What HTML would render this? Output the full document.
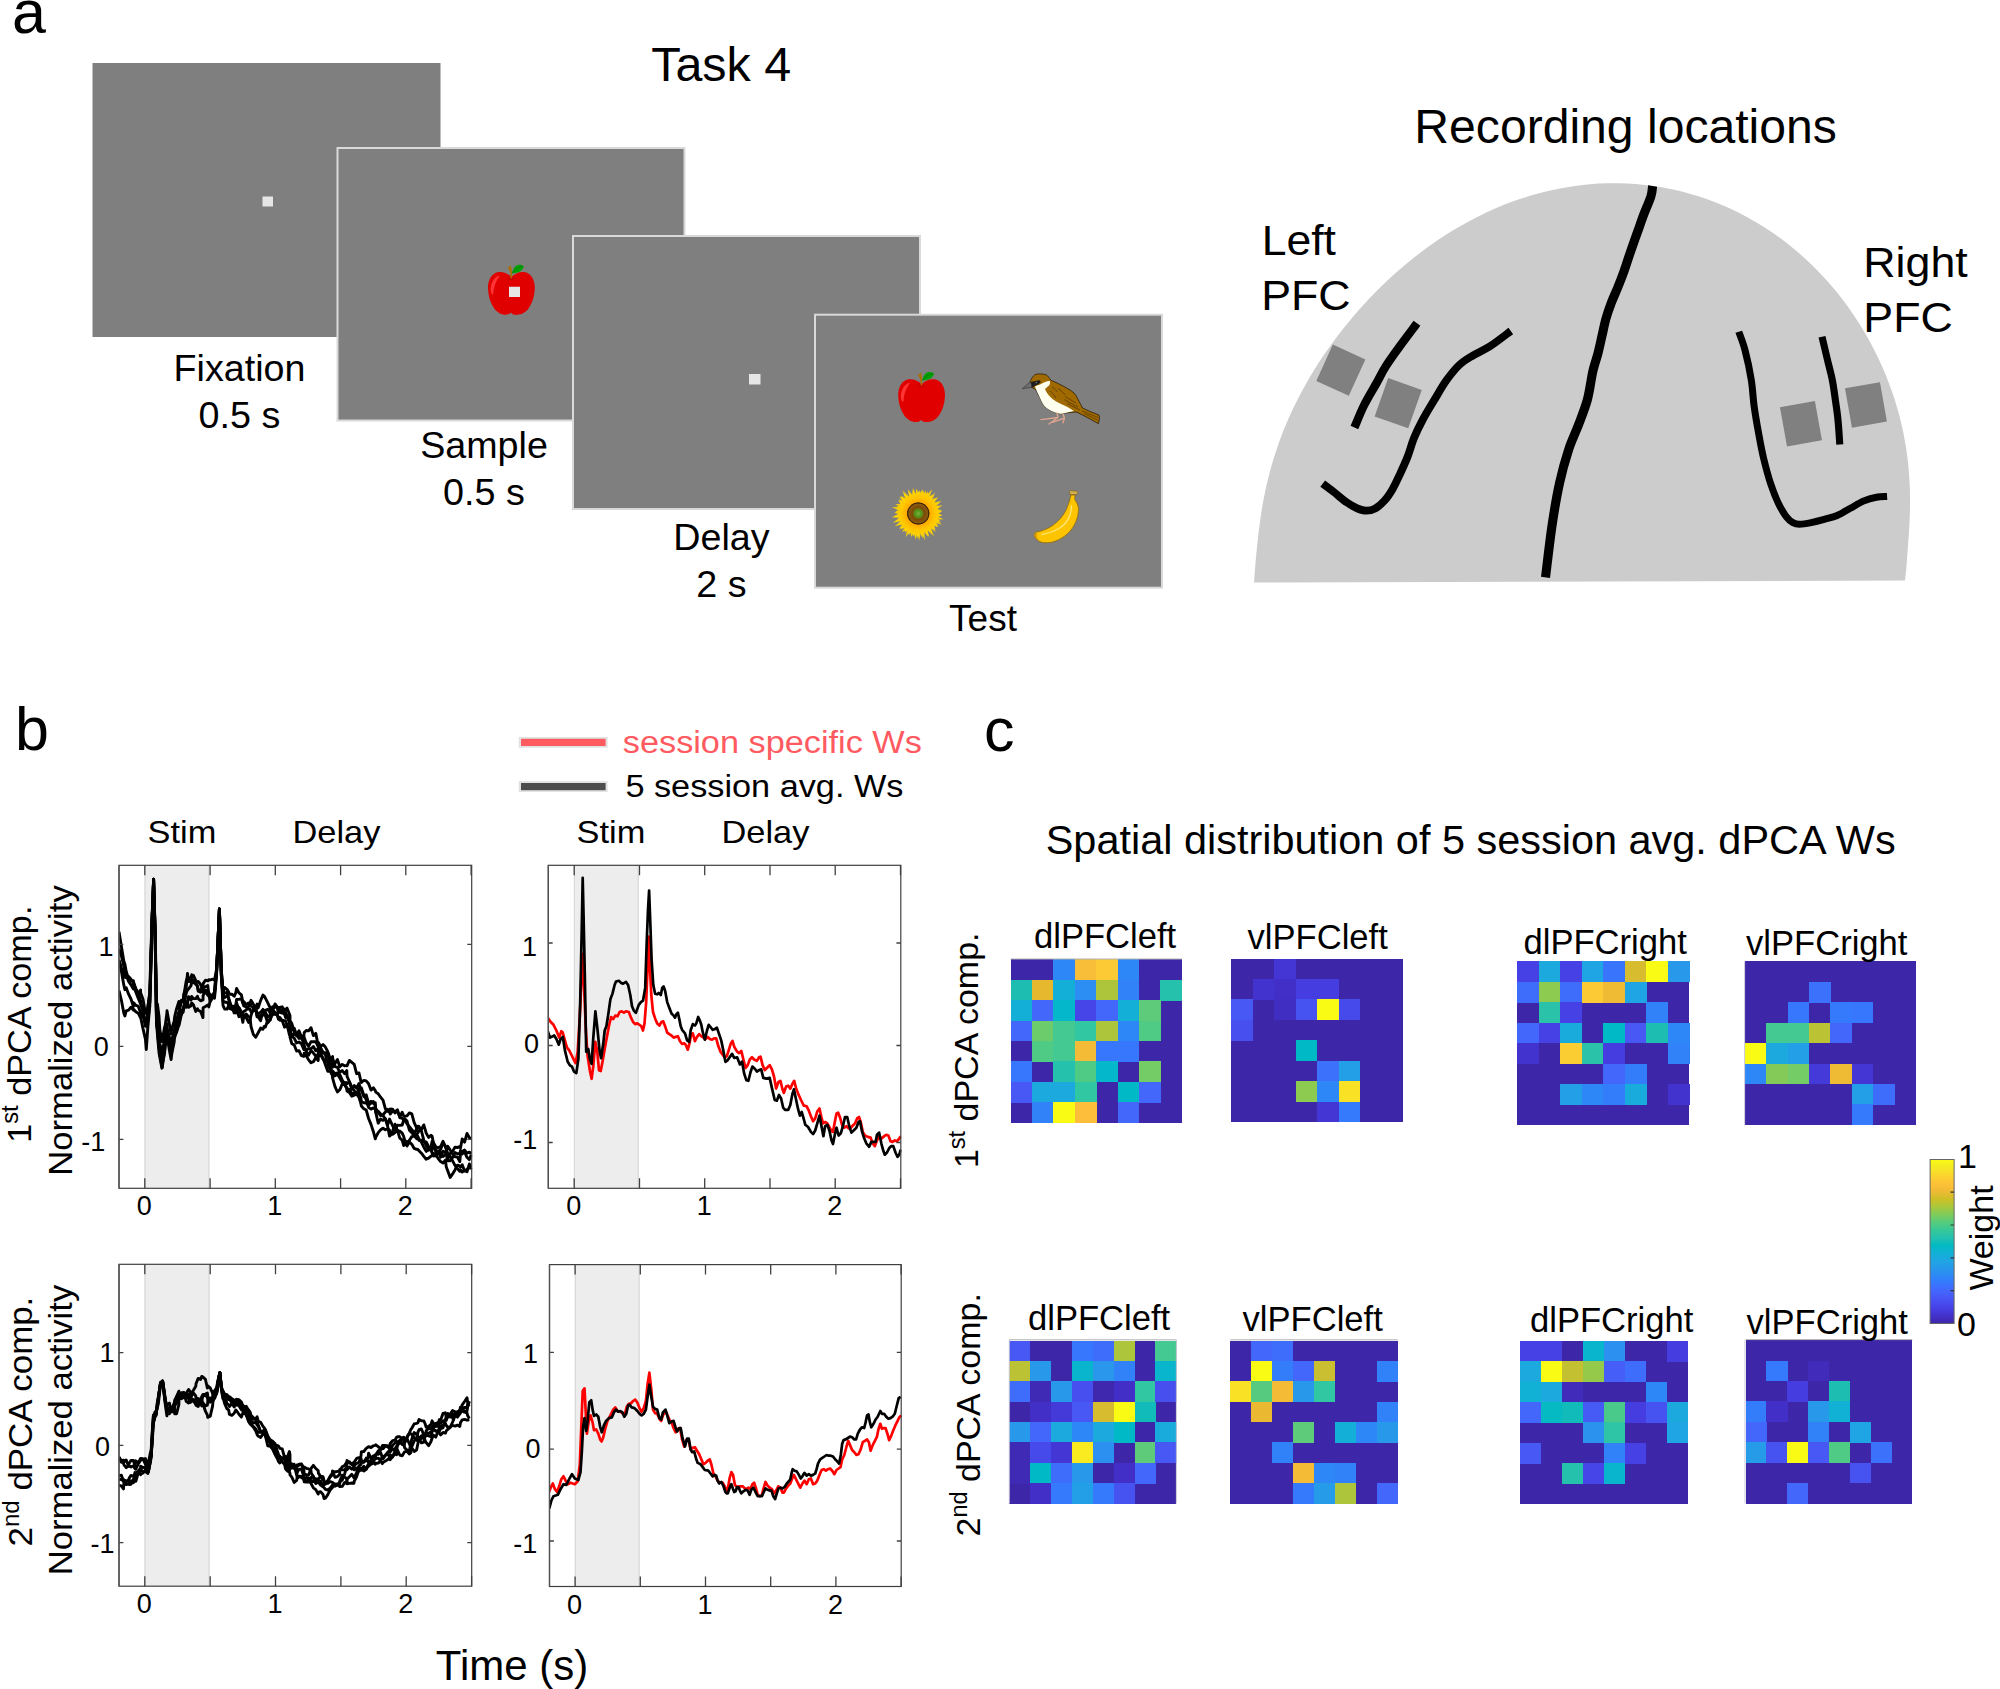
<!DOCTYPE html>
<html><head><meta charset="utf-8"><title>Figure</title>
<style>html,body{margin:0;padding:0;background:#fff}svg{display:block}</style></head>
<body>
<svg width="2000" height="1689" viewBox="0 0 2000 1689" style="font-family:'Liberation Sans',sans-serif">
<text x="12.0" y="33.0" font-size="61.0" text-anchor="start" fill="#000" >a</text>
<text transform="translate(721.2,81.2) scale(1.0200,1)" font-size="47.5" text-anchor="middle" fill="#000" >Task 4</text>
<rect x="92.5" y="63" width="348" height="274" fill="#7F7F7F"/>
<rect x="262.5" y="196.5" width="10.5" height="10" fill="#E6E6E6"/>
<rect x="337.5" y="148" width="347" height="272.5" fill="#7F7F7F" stroke="#D9D9D9" stroke-width="2"/>
<rect x="573" y="236" width="347" height="273" fill="#7F7F7F" stroke="#D9D9D9" stroke-width="2"/>
<rect x="749" y="374" width="11.5" height="10.5" fill="#E6E6E6"/>
<rect x="815" y="314.7" width="347" height="273" fill="#7F7F7F" stroke="#D9D9D9" stroke-width="2"/>
<defs>
<radialGradient id="sfg" gradientUnits="userSpaceOnUse" cx="0" cy="0" r="26"><stop offset="0.4" stop-color="#FFA500"/><stop offset="0.62" stop-color="#FFC400"/><stop offset="1" stop-color="#FFE000"/></radialGradient>
<radialGradient id="sfc" gradientUnits="userSpaceOnUse" cx="0" cy="0" r="11"><stop offset="0" stop-color="#8DB040"/><stop offset="0.25" stop-color="#4E9A20"/><stop offset="0.42" stop-color="#6A7A10"/><stop offset="0.54" stop-color="#7A4A05"/><stop offset="0.88" stop-color="#8A5A14"/><stop offset="1" stop-color="#4A2E05"/></radialGradient>
</defs>
<g transform="translate(511.4,293.2)"><path d="M0,-16 C-3,-20 -9,-22 -14,-21 C-20,-19.5 -23.5,-13 -23.4,-5 C-23.2,3 -21,10 -17,15.5 C-13.5,20 -9,21.7 -5.5,21.6 C-3,21.5 -1.5,20.5 -0.5,19.2 C0.5,20.5 2,21.5 4.5,21.6 C9,21.7 13.5,20 17,15.5 C21,10 23.2,3 23.4,-5 C23.5,-13 20,-19.5 14,-21 C9,-22 3,-20 0,-16 Z" fill="#E00000"/>
<path d="M-3.5,-15.5 C-2,-13.5 2,-13.5 3.5,-15.5" fill="none" stroke="#B80000" stroke-width="1"/>
<path d="M-11.6,-17.8 C-16.5,-17 -20.5,-11 -20.8,-4 C-20.6,-1 -19.8,1 -18.3,1.6 C-18,-6 -15.5,-12.5 -11.6,-17.8 Z" fill="#FF3535"/>
<path d="M-0.8,-15 C-0.8,-20 -1.5,-23 -3.9,-25.4 L-0.6,-27.8 C0.5,-24 0.8,-20 0.6,-15 Z" fill="#A87000"/>
<path d="M0.6,-20 C1.5,-24.5 4,-28 6.5,-28.3 C9,-28.6 11,-28 12.6,-26.8 C11,-23.5 9,-21.5 6.5,-21 C4.5,-20.5 2.5,-20 0.6,-20 Z" fill="#00A000"/>
<path d="M1.2,-20.5 C3.5,-24 7,-26.3 11.5,-26.8" fill="none" stroke="#007800" stroke-width="0.7"/></g>
<rect x="509" y="286.75" width="11" height="10.25" fill="#E6E6E6"/>
<g transform="translate(921.6,400.5)"><path d="M0,-16 C-3,-20 -9,-22 -14,-21 C-20,-19.5 -23.5,-13 -23.4,-5 C-23.2,3 -21,10 -17,15.5 C-13.5,20 -9,21.7 -5.5,21.6 C-3,21.5 -1.5,20.5 -0.5,19.2 C0.5,20.5 2,21.5 4.5,21.6 C9,21.7 13.5,20 17,15.5 C21,10 23.2,3 23.4,-5 C23.5,-13 20,-19.5 14,-21 C9,-22 3,-20 0,-16 Z" fill="#E00000"/>
<path d="M-3.5,-15.5 C-2,-13.5 2,-13.5 3.5,-15.5" fill="none" stroke="#B80000" stroke-width="1"/>
<path d="M-11.6,-17.8 C-16.5,-17 -20.5,-11 -20.8,-4 C-20.6,-1 -19.8,1 -18.3,1.6 C-18,-6 -15.5,-12.5 -11.6,-17.8 Z" fill="#FF3535"/>
<path d="M-0.8,-15 C-0.8,-20 -1.5,-23 -3.9,-25.4 L-0.6,-27.8 C0.5,-24 0.8,-20 0.6,-15 Z" fill="#A87000"/>
<path d="M0.6,-20 C1.5,-24.5 4,-28 6.5,-28.3 C9,-28.6 11,-28 12.6,-26.8 C11,-23.5 9,-21.5 6.5,-21 C4.5,-20.5 2.5,-20 0.6,-20 Z" fill="#00A000"/>
<path d="M1.2,-20.5 C3.5,-24 7,-26.3 11.5,-26.8" fill="none" stroke="#007800" stroke-width="0.7"/></g>
<g transform="translate(918.25,513.5)">
<polygon points="19.5,-0.8 23.8,1.9 19.3,2.8 25.3,5.8 18.5,6.3 23.6,10.9 17.0,9.6 19.9,13.6 15.0,12.5 17.6,18.3 12.4,15.0 15.8,22.8 9.4,17.1 11.0,23.5 6.1,18.5 6.7,26.6 2.6,19.3 0.9,27.0 -1.0,19.5 -2.5,26.2 -4.5,19.0 -7.1,23.5 -7.9,17.8 -12.6,23.6 -11.1,16.0 -16.3,18.6 -13.8,13.7 -19.3,15.2 -16.1,11.0 -23.4,12.8 -17.9,7.8 -25.5,9.3 -19.0,4.4 -26.6,3.7 -19.5,0.8 -24.0,-0.7 -19.3,-2.8 -26.4,-6.4 -18.5,-6.3 -22.8,-9.5 -17.0,-9.6 -19.6,-14.3 -15.0,-12.5 -17.4,-17.7 -12.4,-15.0 -15.8,-22.9 -9.4,-17.1 -10.2,-24.3 -6.1,-18.5 -5.2,-25.7 -2.6,-19.3 -2.1,-24.9 1.0,-19.5 4.3,-24.2 4.5,-19.0 7.9,-23.1 7.9,-17.8 13.9,-24.2 11.1,-16.0 16.9,-20.4 13.8,-13.7 20.0,-16.5 16.1,-11.0 23.1,-12.6 17.9,-7.8 24.2,-8.1 19.0,-4.4 23.8,-3.1" fill="#FFD400" opacity="0.9"/>
<polygon points="18.5,0.3 24.2,1.7 18.0,4.1 22.5,8.2 16.8,7.8 20.0,12.7 14.8,11.1 17.2,15.5 12.2,13.9 14.3,19.2 9.0,16.2 9.6,23.0 5.4,17.7 4.0,24.5 1.7,18.4 -1.2,24.4 -2.2,18.4 -4.9,23.0 -6.0,17.5 -9.6,21.4 -9.5,15.9 -13.5,19.1 -12.6,13.6 -17.8,15.9 -15.1,10.6 -19.7,11.1 -17.0,7.3 -22.8,7.8 -18.2,3.6 -24.6,3.1 -18.5,-0.3 -22.7,-2.1 -18.0,-4.1 -22.0,-6.8 -16.8,-7.8 -19.7,-12.7 -14.8,-11.1 -18.9,-17.1 -12.2,-13.9 -15.1,-20.3 -9.0,-16.2 -8.3,-21.1 -5.4,-17.7 -5.7,-23.0 -1.7,-18.4 1.2,-23.2 2.2,-18.4 5.1,-23.5 6.0,-17.5 9.7,-22.0 9.5,-15.9 14.6,-19.0 12.6,-13.6 17.2,-15.6 15.1,-10.6 21.6,-11.0 17.0,-7.3 20.9,-5.9 18.2,-3.6 24.0,-1.8" fill="url(#sfg)"/>
<circle r="11.1" fill="url(#sfc)"/><circle r="10.6" fill="none" stroke="#3A2405" stroke-width="1"/>
</g>
<g transform="translate(1010,475)">
<path d="M65,20 C64.6,22 64.6,23.5 65,25 C66.5,27 67.5,29 68,31 C68.6,33 68.6,35.5 68.25,37.5 C68,40 67.5,42.5 66.5,45 C65.5,48 64,50.5 62.5,53 C60.8,55.5 58.5,58 56,60 C53.5,62 51,63.8 48,65 C45.5,66.2 42.5,67.2 40,67.5 C37.5,67.9 35,67.9 32.5,67.5 C30.5,67 28.5,66 27,64.5 C25.5,63.3 24.5,62 24.25,60.5 C24.2,58.8 25.3,57.5 27,57 C29.8,56.6 32.5,55.5 35,54.5 C37.7,53.5 40.3,52.2 42.5,50.5 C45.3,48.5 47.8,46.4 50,44 C52,41.8 53.7,39.5 55,37 C56.3,34.7 57.3,32.4 58,30 C58.9,28 59.6,26 60,24 C60.5,22.6 60.75,21.3 60.75,20 Z" fill="#FFC400" stroke="#8A6400" stroke-width="0.7"/>
<path d="M24.3,60.5 C24.3,58.5 25.5,57.3 27,57 C26.3,59.5 26.6,62 28,64.8 C25.8,63.6 24.6,62.2 24.3,60.5 Z" fill="#D09800"/>
<path d="M61.5,31 C61.4,34 60.9,37 60,40 C59,42.7 57.7,45.2 56,47.5 C54.2,49.8 51.8,51.8 49,53.5 C46.2,55.2 43.2,56.5 40,57.5 C37.3,58.4 34.6,59 32,59.5" fill="none" stroke="#FFE878" stroke-width="1.3" stroke-linecap="round"/>
<path d="M59.5,16.75 C59.8,15.9 60.2,15.5 60.5,15.5 L67,16.25 C67.5,16.6 67.75,17 67.75,17.5 L66.75,19.6 L60,19.6 Z" fill="#D0B050" stroke="#7A5A10" stroke-width="0.6"/>
</g>
<g transform="translate(1010,360)">
<path d="M20,22 C22,17 24,15 26,14.25 C28,13.7 33,13.7 36,14.75 C37.8,15.8 38.7,17.2 39.5,18.5 L41.5,20.5 C45,22 47.5,23.2 50,24.5 C52.5,25.8 55,27 57.5,28.5 C60,30 62.3,31.3 64,33 C65.5,34.7 66.7,36.6 67.5,38.5 C68.8,41 70,43 71,45 L72.5,48 C75,49.2 77.5,50.4 80,51.5 L89,55 L89.5,58 L88.5,63.75 L80,59 L72.5,55 C70.5,54 68.5,53 66.5,52 L55,53 C53.3,53.7 51.7,53.9 50,53.75 C48.3,53.6 46.6,53.1 45,52.5 C42.5,51.7 40,50.6 38,49 C36,47.6 34.3,46 33,44 C31.8,42 30.8,40 30,38 L26,30 C24.5,28.5 22,27.8 21.5,27.25 Z" fill="#A06A00" stroke="#1A1205" stroke-width="0.7" stroke-linejoin="round"/>
<path d="M25,26.5 C27,25.5 28.5,25 30,24.5 C31.7,23.7 33.3,22.8 35,22 C36.7,21.4 38.5,20.9 40,21 C40.2,22.3 40,23.7 39.5,25 L35,29 C35.5,30.5 36.2,31.8 37,33 C38.6,35.2 40.5,37.2 42.5,39 C44.8,40.8 47.4,42.2 50,43.5 C52.5,44.7 55,45.8 57.5,47 L64,51 L55,53 C53.3,53.7 51.7,53.9 50,53.75 C48.3,53.6 46.6,53.1 45,52.5 C42.5,51.7 40,50.6 38,49 C36,47.6 34.3,46 33,44 C31.8,42 30.8,40 30,38 L26.5,30.5 C26,29 25.5,27.8 25,26.5 Z" fill="#FFFFF0"/>
<path d="M20.5,22 C23.5,21.3 27,20.6 29.5,20.25 C30.3,20.6 30.7,21.2 30.75,22 C30,23 29.3,23.7 28.5,24.25 C27.5,24.9 26.3,25.3 25,25.75 C24.5,26.2 23.9,26.7 23.5,27.25 L21.5,27.25 Z" fill="#1E1E1E"/>
<path d="M12.25,28.75 L20,22 C20.8,22.6 21.5,24 21.6,25 C21.7,26 21.7,26.6 21.5,27.25 Z" fill="#6E6E6E" stroke="#222" stroke-width="0.5" stroke-linejoin="round"/>
<circle cx="26.3" cy="22.6" r="0.8" fill="#777"/>
<path d="M42,27 C44,28 46,30 47,32 M40,31 C42,32.5 44.5,35 46,38 M48,28.5 C50.5,30 53.5,32.5 55,35 M55,36.5 L66,43 M54,39.5 L68,47 M57,43.5 L70,50 M72,51 L88,57.5 M74,53.5 L88.5,60.5" fill="none" stroke="#5A3A00" stroke-width="0.8"/>
<path d="M47,53 L48,57.5 L31,59.6 M48,57.5 L39,64 M53,54 L54.5,58 L42.5,62.3 M54.5,58 L53,62.8" fill="none" stroke="#DDA48E" stroke-width="1.4" stroke-linecap="round" stroke-linejoin="round"/>
</g>
<text transform="translate(239.5,381.0) scale(1.0180,1)" font-size="37.0" text-anchor="middle" fill="#000" >Fixation</text>
<text transform="translate(239.5,427.5) scale(1.0200,1)" font-size="37.0" text-anchor="middle" fill="#000" >0.5 s</text>
<text transform="translate(484.0,457.5) scale(1.0180,1)" font-size="37.0" text-anchor="middle" fill="#000" >Sample</text>
<text transform="translate(484.0,505.0) scale(1.0200,1)" font-size="37.0" text-anchor="middle" fill="#000" >0.5 s</text>
<text transform="translate(721.5,550.0) scale(1.0180,1)" font-size="37.0" text-anchor="middle" fill="#000" >Delay</text>
<text transform="translate(721.5,596.5) scale(1.0200,1)" font-size="37.0" text-anchor="middle" fill="#000" >2 s</text>
<text x="983.0" y="630.5" font-size="37.0" text-anchor="middle" fill="#000" >Test</text>
<text transform="translate(1625.6,142.8) scale(1.0130,1)" font-size="47.5" text-anchor="middle" fill="#000" >Recording locations</text>
<path d="M1254.1,582.6 C1254.3,580.2 1254.7,572.8 1255.1,567.9 C1255.5,563.1 1255.9,558.2 1256.4,553.3 C1256.9,548.5 1257.3,543.6 1257.9,538.7 C1258.4,533.8 1259.0,529.0 1259.7,524.1 C1260.3,519.2 1261.0,514.3 1261.8,509.4 C1262.6,504.6 1263.5,499.7 1264.5,494.8 C1265.5,489.9 1266.5,485.1 1267.7,480.2 C1268.9,475.4 1270.1,470.5 1271.5,465.7 C1272.9,460.9 1274.4,456.1 1276.0,451.3 C1277.5,446.5 1279.2,441.7 1281.0,437.0 C1282.8,432.2 1284.7,427.5 1286.7,422.8 C1288.7,418.1 1290.8,413.5 1293.0,408.8 C1295.2,404.2 1297.5,399.6 1299.9,395.0 C1302.3,390.5 1304.8,385.9 1307.3,381.4 C1309.9,376.9 1312.6,372.4 1315.4,368.0 C1318.1,363.6 1321.0,359.2 1324.0,354.8 C1326.9,350.5 1330.0,346.2 1333.1,341.9 C1336.2,337.6 1339.5,333.4 1342.8,329.2 C1346.1,325.0 1349.5,320.8 1353.0,316.7 C1356.5,312.6 1360.1,308.5 1363.8,304.5 C1367.4,300.4 1371.2,296.5 1375.1,292.5 C1378.9,288.6 1382.9,284.8 1386.9,280.9 C1391.0,277.1 1395.1,273.4 1399.4,269.7 C1403.6,266.0 1407.9,262.4 1412.3,258.9 C1416.8,255.3 1421.3,251.9 1425.9,248.5 C1430.5,245.1 1435.2,241.8 1440.1,238.6 C1444.9,235.4 1449.8,232.3 1454.8,229.3 C1459.8,226.3 1464.9,223.4 1470.0,220.7 C1475.2,217.9 1480.5,215.3 1485.8,212.7 C1491.2,210.2 1496.6,207.8 1502.2,205.6 C1507.7,203.4 1513.3,201.3 1519.0,199.3 C1524.6,197.4 1530.4,195.6 1536.2,194.0 C1542.0,192.4 1547.8,191.0 1553.8,189.7 C1559.7,188.4 1565.6,187.3 1571.6,186.4 C1577.6,185.5 1583.7,184.8 1589.8,184.3 C1595.8,183.8 1601.9,183.4 1608.0,183.3 C1614.1,183.1 1620.3,183.2 1626.4,183.5 C1632.5,183.7 1638.6,184.2 1644.7,184.9 C1650.8,185.5 1656.8,186.4 1662.9,187.5 C1668.9,188.6 1674.9,189.8 1680.8,191.3 C1686.8,192.8 1692.7,194.5 1698.5,196.3 C1704.4,198.2 1710.2,200.3 1715.9,202.5 C1721.5,204.7 1727.2,207.2 1732.7,209.8 C1738.2,212.4 1743.7,215.2 1749.0,218.2 C1754.4,221.1 1759.6,224.2 1764.7,227.5 C1769.9,230.8 1774.9,234.3 1779.8,237.8 C1784.7,241.4 1789.5,245.2 1794.1,249.0 C1798.8,252.9 1803.3,256.9 1807.7,261.0 C1812.1,265.1 1816.4,269.4 1820.5,273.7 C1824.6,278.0 1828.6,282.5 1832.5,287.1 C1836.3,291.6 1840.0,296.2 1843.6,301.0 C1847.2,305.7 1850.6,310.5 1853.9,315.4 C1857.2,320.3 1860.3,325.2 1863.3,330.2 C1866.3,335.2 1869.2,340.3 1871.9,345.4 C1874.6,350.5 1877.2,355.7 1879.6,360.9 C1882.0,366.1 1884.3,371.4 1886.4,376.7 C1888.5,382.0 1890.5,387.3 1892.3,392.6 C1894.2,398.0 1895.9,403.3 1897.4,408.7 C1899.0,414.1 1900.4,419.5 1901.6,424.9 C1902.9,430.3 1904.0,435.7 1904.9,441.1 C1905.9,446.5 1906.7,451.9 1907.4,457.3 C1908.1,462.6 1908.6,468.0 1909.0,473.4 C1909.4,478.7 1909.7,484.1 1909.9,489.4 C1910.0,494.7 1910.1,500.0 1910.0,505.2 C1910.0,510.4 1909.8,515.6 1909.6,520.8 C1909.4,525.9 1909.0,531.1 1908.7,536.1 C1908.3,541.2 1907.9,546.2 1907.6,551.2 C1907.2,556.2 1906.9,561.1 1906.5,566.0 C1906.1,570.9 1905.2,578.2 1905.0,580.6 Z" fill="#CCCCCC"/>
<rect x="1323.0" y="350.2" width="35.7" height="39.9" fill="#808080" transform="rotate(24.5 1340.8 370.1)"/>
<rect x="1380.4" y="382.9" width="35.6" height="40.6" fill="#808080" transform="rotate(19.5 1398.2 403.2)"/>
<rect x="1783.2" y="403.7" width="35.5" height="40.0" fill="#808080" transform="rotate(-10.2 1801.0 423.7)"/>
<rect x="1848.2" y="384.9" width="35.5" height="40.0" fill="#808080" transform="rotate(-10.0 1866.0 404.9)"/>
<path d="M1652.6,186.0 C1652.3,187.8 1652.4,191.7 1650.9,196.5 C1649.4,201.3 1646.0,208.6 1643.7,214.7 C1641.4,220.8 1639.4,226.8 1637.2,232.9 C1635.0,239.0 1632.9,244.9 1630.7,251.2 C1628.5,257.5 1626.4,264.6 1624.2,270.7 C1622.0,276.8 1619.9,282.2 1617.7,287.6 C1615.5,293.0 1613.1,298.1 1611.1,303.3 C1609.1,308.5 1607.4,313.5 1605.9,318.9 C1604.4,324.3 1603.3,330.1 1602.0,335.8 C1600.7,341.5 1599.6,346.9 1598.1,352.8 C1596.6,358.7 1594.7,363.3 1592.9,371.0 C1591.1,378.7 1589.9,390.3 1587.5,399.2 C1585.1,408.1 1581.8,416.1 1578.6,424.6 C1575.4,433.1 1571.7,440.3 1568.5,450.1 C1565.3,459.9 1562.3,470.5 1559.5,483.2 C1556.7,495.9 1554.2,510.8 1551.9,526.5 C1549.6,542.2 1546.6,568.9 1545.5,577.4" fill="none" stroke="#000" stroke-width="9.1" stroke-linecap="butt" stroke-linejoin="round"/>
<path d="M1417.0,323.3 C1414.2,327.1 1405.2,338.9 1400.0,346.0 C1394.8,353.1 1389.9,359.9 1386.0,366.0 C1382.1,372.1 1380.5,375.9 1376.8,382.6 C1373.1,389.3 1367.4,398.5 1363.7,406.0 C1360.0,413.5 1356.0,423.9 1354.4,427.5" fill="none" stroke="#000" stroke-width="8.4" stroke-linecap="butt" stroke-linejoin="round"/>
<path d="M1510.8,331.0 C1507.3,333.6 1496.4,342.2 1490.0,346.3 C1483.6,350.4 1477.5,352.7 1472.4,355.8 C1467.3,358.9 1463.7,360.9 1459.3,365.0 C1454.9,369.1 1450.5,374.7 1446.3,380.6 C1442.1,386.5 1438.0,393.9 1434.0,400.5 C1430.0,407.1 1425.7,414.1 1422.4,420.4 C1419.1,426.6 1416.5,431.9 1414.0,438.0 C1411.5,444.1 1410.0,450.6 1407.5,457.0 C1405.0,463.4 1401.4,471.0 1398.9,476.4 C1396.4,481.8 1394.8,485.4 1392.4,489.4 C1390.0,493.4 1387.4,497.4 1384.6,500.5 C1381.8,503.6 1378.5,506.6 1375.5,508.3 C1372.5,510.0 1369.3,510.7 1366.3,510.7 C1363.2,510.7 1360.5,509.7 1357.2,508.3 C1354.0,506.9 1350.7,505.1 1346.8,502.4 C1342.9,499.7 1337.8,495.1 1333.8,492.0 C1329.8,488.9 1324.5,485.0 1322.7,483.6" fill="none" stroke="#000" stroke-width="7.8" stroke-linecap="butt" stroke-linejoin="round"/>
<path d="M1738.8,331.7 C1739.8,334.8 1742.9,341.9 1745.0,350.0 C1747.1,358.1 1749.8,370.7 1751.3,380.0 C1752.8,389.3 1752.9,397.3 1754.1,406.0 C1755.3,414.7 1756.8,423.4 1758.4,432.1 C1760.0,440.8 1761.5,449.5 1763.6,458.2 C1765.7,466.9 1768.3,476.6 1770.8,484.2 C1773.3,491.8 1776.0,498.3 1778.6,503.7 C1781.2,509.1 1784.0,513.6 1786.4,516.8 C1788.8,519.9 1790.7,521.4 1792.9,522.6 C1795.1,523.8 1796.5,524.2 1799.5,524.2 C1802.5,524.2 1807.1,523.4 1811.2,522.6 C1815.3,521.8 1819.9,520.6 1824.2,519.4 C1828.5,518.2 1832.9,517.4 1837.2,515.5 C1841.5,513.6 1846.0,510.7 1850.3,508.3 C1854.6,505.9 1859.0,503.0 1863.3,501.1 C1867.6,499.2 1872.3,497.9 1876.3,497.2 C1880.3,496.4 1885.3,496.7 1887.1,496.6" fill="none" stroke="#000" stroke-width="7.0" stroke-linecap="butt" stroke-linejoin="round"/>
<path d="M1822.0,336.8 C1822.9,340.7 1825.8,352.8 1827.5,360.0 C1829.2,367.2 1831.0,373.4 1832.3,380.0 C1833.6,386.6 1834.4,393.0 1835.3,399.5 C1836.2,406.0 1837.2,411.6 1837.9,419.1 C1838.7,426.6 1839.5,440.3 1839.8,444.5" fill="none" stroke="#000" stroke-width="7.1" stroke-linecap="butt" stroke-linejoin="round"/>
<text transform="translate(1261.7,255.4) scale(1.0600,1)" font-size="42.0" text-anchor="start" fill="#000" >Left</text>
<text transform="translate(1261.2,310.1) scale(1.0650,1)" font-size="42.0" text-anchor="start" fill="#000" >PFC</text>
<text transform="translate(1863.3,276.9) scale(1.0650,1)" font-size="42.0" text-anchor="start" fill="#000" >Right</text>
<text transform="translate(1863.3,331.7) scale(1.0650,1)" font-size="42.0" text-anchor="start" fill="#000" >PFC</text>
<text x="15.0" y="750.0" font-size="61.0" text-anchor="start" fill="#000" >b</text>
<rect x="144.6" y="865.3" width="64.7" height="323.0" fill="#EDEDED"/>
<path d="M145.0,865.3 V1188.3 M208.9,865.3 V1188.3" stroke="#D8D8D8" stroke-width="1.2" fill="none"/>
<rect x="574.0" y="865.3" width="64.7" height="323.0" fill="#EDEDED"/>
<path d="M574.4,865.3 V1188.3 M638.2,865.3 V1188.3" stroke="#D8D8D8" stroke-width="1.2" fill="none"/>
<rect x="144.6" y="1264.3" width="64.8" height="321.9" fill="#EDEDED"/>
<path d="M145.0,1264.3 V1586.2 M209.0,1264.3 V1586.2" stroke="#D8D8D8" stroke-width="1.2" fill="none"/>
<rect x="574.9" y="1264.6" width="64.6" height="321.9" fill="#EDEDED"/>
<path d="M575.3,1264.6 V1586.5 M639.1,1264.6 V1586.5" stroke="#D8D8D8" stroke-width="1.2" fill="none"/>
<defs><clipPath id="cp1"><rect x="119.0" y="865.3" width="353.5" height="323.0"/></clipPath><clipPath id="cp2"><rect x="548.3" y="865.3" width="353.3" height="323.0"/></clipPath><clipPath id="cp3"><rect x="119.0" y="1264.3" width="353.5" height="321.9"/></clipPath><clipPath id="cp4"><rect x="549.5" y="1264.6" width="352.5" height="321.9"/></clipPath></defs>
<path d="M119.0,931.8 L121.4,946.6 L123.8,960.9 L124.9,964.1 L126.2,971.4 L128.6,978.9 L131.0,981.2 L133.4,980.7 L133.5,983.0 L135.8,989.5 L138.2,994.0 L140.6,990.0 L140.6,992.5 L143.0,999.3 L145.4,1013.2 L146.3,1012.3 L147.8,1007.4 L149.8,992.4 L150.2,975.9 L152.2,912.3 L152.6,904.5 L153.6,879.2 L155.0,924.3 L155.1,925.6 L156.5,1003.1 L157.4,1004.0 L159.0,1016.2 L159.8,1029.5 L161.9,1041.5 L162.2,1040.5 L164.6,1026.9 L164.7,1029.5 L166.9,1013.0 L167.0,1010.7 L169.4,1024.4 L171.1,1033.9 L171.8,1028.5 L174.2,1021.2 L174.7,1016.7 L176.6,1008.6 L178.9,1001.4 L179.0,1008.5 L181.4,1001.8 L183.2,1000.7 L183.8,996.0 L186.2,981.0 L187.5,977.4 L188.6,979.2 L191.0,982.5 L191.7,974.8 L193.4,975.3 L195.8,980.6 L197.4,982.0 L198.2,981.5 L200.6,984.5 L203.0,991.4 L203.1,987.0 L205.4,986.8 L207.8,985.6 L208.8,994.9 L210.2,1001.4 L212.6,997.9 L214.5,994.5 L215.0,988.4 L216.6,970.1 L217.4,953.4 L219.4,909.0 L219.8,921.9 L221.3,975.1 L222.2,987.1 L223.0,993.1 L224.6,987.5 L227.0,989.3 L228.7,992.1 L229.4,994.2 L231.8,994.1 L234.2,996.3 L235.8,992.6 L236.6,988.5 L239.0,992.9 L241.4,994.9 L242.9,1002.6 L243.8,1001.6 L246.2,1004.7 L248.6,1003.0 L250.0,1002.5 L251.0,1006.1 L253.4,1007.4 L255.8,1007.3 L257.1,1004.1 L258.2,1007.9 L260.6,1000.6 L263.0,995.0 L264.2,996.0 L265.4,998.2 L267.8,1002.9 L270.2,1007.9 L271.3,1013.6 L272.6,1010.8 L275.0,1003.9 L277.4,1007.2 L278.4,1010.8 L279.8,1007.5 L282.2,1006.8 L284.6,1014.2 L285.5,1009.8 L287.0,1008.1 L289.4,1014.0 L290.0,1015.7 L290.0,1020.5 L291.8,1023.4 L294.2,1032.7 L296.6,1035.9 L299.0,1035.1 L301.4,1035.7 L303.8,1038.4 L304.2,1032.5 L306.2,1030.5 L308.6,1030.9 L311.0,1027.7 L313.4,1035.6 L315.8,1033.4 L318.2,1045.8 L318.4,1042.4 L320.6,1046.4 L323.0,1044.6 L325.4,1047.1 L327.8,1051.6 L330.2,1058.6 L332.6,1067.2 L332.6,1065.1 L335.0,1063.4 L337.4,1059.5 L339.8,1066.8 L342.2,1064.4 L344.6,1065.8 L346.8,1065.4 L347.0,1065.8 L349.4,1060.4 L351.8,1062.4 L354.2,1064.4 L356.6,1073.7 L359.0,1073.0 L361.0,1081.9 L361.4,1082.5 L363.8,1080.4 L366.2,1080.9 L368.6,1083.7 L371.0,1090.1 L373.4,1087.8 L375.3,1090.5 L375.8,1092.1 L378.2,1093.7 L380.6,1097.2 L383.0,1100.1 L385.4,1108.9 L387.8,1111.4 L389.5,1111.8 L390.2,1109.0 L392.6,1109.1 L395.0,1112.9 L397.4,1111.0 L399.8,1116.7 L402.2,1112.3 L403.7,1116.0 L404.6,1116.1 L407.0,1115.9 L409.4,1112.9 L411.8,1113.9 L414.2,1122.6 L416.6,1127.8 L417.9,1132.8 L419.0,1130.9 L421.4,1129.5 L423.8,1124.9 L426.2,1133.1 L428.6,1137.4 L431.0,1135.3 L432.1,1136.4 L433.4,1142.8 L435.8,1146.8 L438.2,1147.8 L440.6,1146.5 L443.0,1141.3 L445.4,1146.5 L446.3,1149.0 L447.8,1158.9 L450.2,1153.3 L452.6,1151.4 L455.0,1147.1 L457.4,1147.5 L459.8,1146.7 L460.5,1147.9 L462.2,1138.9 L464.6,1142.2 L467.0,1133.4 L469.4,1137.8 L471.2,1138.3" fill="none" stroke="#000" stroke-width="2.9" stroke-linejoin="round" stroke-linecap="butt" clip-path="url(#cp1)"/>
<path d="M119.0,948.8 L121.4,956.0 L123.8,966.1 L124.9,972.1 L126.2,974.8 L128.6,981.4 L131.0,984.9 L133.4,989.1 L133.5,985.0 L135.8,992.0 L138.2,998.3 L140.6,1004.0 L140.6,1001.1 L143.0,1013.5 L145.4,1023.3 L146.3,1024.5 L147.8,1007.5 L149.8,993.6 L150.2,983.5 L152.2,915.8 L152.6,906.6 L153.6,879.2 L155.0,928.3 L155.1,931.9 L156.5,1015.7 L157.4,1022.4 L159.0,1032.1 L159.8,1043.2 L161.9,1053.1 L162.2,1053.6 L164.6,1038.4 L164.7,1040.2 L166.9,1023.6 L167.0,1030.2 L169.4,1041.9 L171.1,1049.6 L171.8,1040.1 L174.2,1031.9 L174.7,1037.3 L176.6,1031.4 L178.9,1018.8 L179.0,1013.6 L181.4,1000.2 L183.2,1001.5 L183.8,994.3 L186.2,987.5 L187.5,973.4 L188.6,981.6 L191.0,976.8 L191.7,982.1 L193.4,980.2 L195.8,983.3 L197.4,986.0 L198.2,991.1 L200.6,992.2 L203.0,991.2 L203.1,983.6 L205.4,980.2 L207.8,980.9 L208.8,979.6 L210.2,980.0 L212.6,979.1 L214.5,980.4 L215.0,977.4 L216.6,968.9 L217.4,953.5 L219.4,909.0 L219.8,921.7 L221.3,971.0 L222.2,981.6 L223.0,992.0 L224.6,993.2 L227.0,992.3 L228.7,999.1 L229.4,1000.5 L231.8,1007.8 L234.2,1007.7 L235.8,1005.0 L236.6,999.4 L239.0,999.2 L241.4,998.9 L242.9,1003.2 L243.8,1006.0 L246.2,1007.0 L248.6,1009.1 L250.0,1009.0 L251.0,1011.9 L253.4,1010.9 L255.8,1009.9 L257.1,1014.9 L258.2,1016.1 L260.6,1015.5 L263.0,1015.2 L264.2,1012.6 L265.4,1010.3 L267.8,1009.2 L270.2,1013.0 L271.3,1012.9 L272.6,1009.7 L275.0,1012.5 L277.4,1015.7 L278.4,1017.5 L279.8,1020.2 L282.2,1020.4 L284.6,1020.7 L285.5,1020.7 L287.0,1024.5 L289.4,1034.7 L290.0,1034.9 L290.0,1029.5 L291.8,1029.0 L294.2,1028.2 L296.6,1035.0 L299.0,1038.4 L301.4,1037.4 L303.8,1043.7 L304.2,1045.2 L306.2,1051.6 L308.6,1055.2 L311.0,1050.6 L313.4,1053.1 L315.8,1056.1 L318.2,1054.6 L318.4,1050.2 L320.6,1047.6 L323.0,1052.3 L325.4,1054.8 L327.8,1064.0 L330.2,1070.2 L332.6,1075.9 L332.6,1078.2 L335.0,1086.7 L337.4,1092.0 L339.8,1089.8 L342.2,1084.1 L344.6,1084.6 L346.8,1087.9 L347.0,1091.0 L349.4,1092.5 L351.8,1096.2 L354.2,1095.1 L356.6,1094.1 L359.0,1092.2 L361.0,1098.6 L361.4,1101.5 L363.8,1102.7 L366.2,1103.1 L368.6,1105.2 L371.0,1103.1 L373.4,1101.5 L375.3,1105.8 L375.8,1112.4 L378.2,1123.2 L380.6,1118.9 L383.0,1120.4 L385.4,1118.8 L387.8,1124.6 L389.5,1119.1 L390.2,1120.5 L392.6,1125.7 L395.0,1129.8 L397.4,1125.2 L399.8,1125.4 L402.2,1125.0 L403.7,1120.2 L404.6,1118.6 L407.0,1121.1 L409.4,1130.2 L411.8,1132.7 L414.2,1135.8 L416.6,1138.7 L417.9,1137.8 L419.0,1140.4 L421.4,1140.2 L423.8,1141.9 L426.2,1141.9 L428.6,1146.7 L431.0,1148.8 L432.1,1149.9 L433.4,1145.6 L435.8,1150.7 L438.2,1151.0 L440.6,1157.3 L443.0,1151.2 L445.4,1152.4 L446.3,1154.5 L447.8,1160.8 L450.2,1160.7 L452.6,1157.5 L455.0,1152.6 L457.4,1153.7 L459.8,1153.5 L460.5,1150.5 L462.2,1151.6 L464.6,1150.1 L467.0,1153.1 L469.4,1152.2 L471.2,1153.7" fill="none" stroke="#000" stroke-width="2.9" stroke-linejoin="round" stroke-linecap="butt" clip-path="url(#cp1)"/>
<path d="M119.0,960.9 L121.4,971.2 L123.8,984.9 L124.9,989.7 L126.2,987.8 L128.6,994.2 L131.0,999.0 L133.4,1006.5 L133.5,1002.6 L135.8,1005.3 L138.2,1006.1 L140.6,1012.8 L140.6,1015.0 L143.0,1015.0 L145.4,1024.4 L146.3,1022.2 L147.8,1016.1 L149.8,1001.0 L150.2,987.0 L152.2,916.0 L152.6,906.3 L153.6,879.2 L155.0,929.2 L155.1,931.4 L156.5,1017.8 L157.4,1028.7 L159.0,1045.0 L159.8,1053.4 L161.9,1066.4 L162.2,1067.7 L164.6,1049.7 L164.7,1045.2 L166.9,1027.2 L167.0,1028.2 L169.4,1037.2 L171.1,1048.5 L171.8,1045.5 L174.2,1034.6 L174.7,1031.7 L176.6,1027.1 L178.9,1021.3 L179.0,1019.3 L181.4,1014.1 L183.2,1012.1 L183.8,1007.2 L186.2,992.9 L187.5,989.9 L188.6,988.9 L191.0,985.7 L191.7,982.3 L193.4,982.3 L195.8,984.2 L197.4,986.1 L198.2,989.9 L200.6,989.8 L203.0,987.5 L203.1,992.3 L205.4,992.2 L207.8,995.2 L208.8,995.8 L210.2,994.6 L212.6,996.1 L214.5,991.8 L215.0,989.3 L216.6,971.5 L217.4,954.0 L219.4,909.0 L219.8,921.8 L221.3,970.7 L222.2,979.4 L223.0,993.1 L224.6,997.6 L227.0,996.2 L228.7,997.7 L229.4,1002.9 L231.8,1006.5 L234.2,1012.9 L235.8,1008.5 L236.6,1009.9 L239.0,1007.5 L241.4,1012.2 L242.9,1012.5 L243.8,1011.4 L246.2,1010.0 L248.6,1006.3 L250.0,1004.0 L251.0,1000.3 L253.4,1004.2 L255.8,1007.8 L257.1,1015.4 L258.2,1013.6 L260.6,1012.3 L263.0,1009.4 L264.2,1010.9 L265.4,1012.3 L267.8,1017.2 L270.2,1015.1 L271.3,1009.4 L272.6,1006.6 L275.0,1007.3 L277.4,1007.2 L278.4,1011.9 L279.8,1012.4 L282.2,1013.2 L284.6,1009.0 L285.5,1013.1 L287.0,1017.1 L289.4,1021.9 L290.0,1028.0 L290.0,1031.0 L291.8,1036.4 L294.2,1038.2 L296.6,1043.0 L299.0,1042.0 L301.4,1043.7 L303.8,1049.5 L304.2,1049.5 L306.2,1050.2 L308.6,1048.6 L311.0,1048.7 L313.4,1046.5 L315.8,1050.7 L318.2,1048.5 L318.4,1051.9 L320.6,1052.4 L323.0,1059.2 L325.4,1061.2 L327.8,1061.1 L330.2,1061.4 L332.6,1056.6 L332.6,1057.8 L335.0,1066.6 L337.4,1067.3 L339.8,1072.5 L342.2,1070.5 L344.6,1073.7 L346.8,1070.6 L347.0,1076.1 L349.4,1081.7 L351.8,1087.0 L354.2,1090.5 L356.6,1093.7 L359.0,1088.5 L361.0,1090.2 L361.4,1089.9 L363.8,1096.5 L366.2,1094.9 L368.6,1103.5 L371.0,1101.2 L373.4,1103.4 L375.3,1102.8 L375.8,1112.3 L378.2,1111.2 L380.6,1114.0 L383.0,1115.5 L385.4,1119.1 L387.8,1126.9 L389.5,1136.1 L390.2,1135.6 L392.6,1131.1 L395.0,1124.2 L397.4,1130.6 L399.8,1131.1 L402.2,1133.2 L403.7,1136.5 L404.6,1140.1 L407.0,1142.5 L409.4,1140.3 L411.8,1136.6 L414.2,1136.0 L416.6,1134.2 L417.9,1136.6 L419.0,1139.0 L421.4,1142.2 L423.8,1147.1 L426.2,1151.4 L428.6,1149.6 L431.0,1150.1 L432.1,1152.9 L433.4,1156.0 L435.8,1155.9 L438.2,1152.3 L440.6,1152.3 L443.0,1156.6 L445.4,1154.7 L446.3,1150.8 L447.8,1146.3 L450.2,1150.1 L452.6,1153.9 L455.0,1156.8 L457.4,1157.0 L459.8,1161.6 L460.5,1154.3 L462.2,1154.0 L464.6,1152.0 L467.0,1157.3 L469.4,1159.6 L471.2,1154.8" fill="none" stroke="#000" stroke-width="2.9" stroke-linejoin="round" stroke-linecap="butt" clip-path="url(#cp1)"/>
<path d="M119.0,990.5 L121.4,1000.3 L123.8,1012.9 L124.9,1016.0 L126.2,1010.9 L128.6,1010.2 L131.0,1007.2 L133.4,1010.1 L133.5,1009.1 L135.8,1011.8 L138.2,1013.2 L140.6,1017.8 L140.6,1016.9 L143.0,1028.6 L145.4,1039.1 L146.3,1049.5 L147.8,1027.7 L149.8,1006.1 L150.2,992.7 L152.2,918.3 L152.6,907.7 L153.6,879.2 L155.0,930.7 L155.1,933.3 L156.5,1021.8 L157.4,1034.1 L159.0,1052.7 L159.8,1057.2 L161.9,1068.2 L162.2,1064.9 L164.6,1053.3 L164.7,1051.9 L166.9,1032.7 L167.0,1029.8 L169.4,1040.0 L171.1,1048.0 L171.8,1041.0 L174.2,1031.7 L174.7,1027.7 L176.6,1019.6 L178.9,1012.0 L179.0,1022.6 L181.4,1010.5 L183.2,1009.5 L183.8,1006.0 L186.2,1007.3 L187.5,1001.5 L188.6,1007.4 L191.0,1005.7 L191.7,1002.9 L193.4,1004.8 L195.8,1011.4 L197.4,1008.8 L198.2,1010.2 L200.6,1011.5 L203.0,1017.6 L203.1,1007.7 L205.4,1006.5 L207.8,1005.1 L208.8,1006.9 L210.2,1000.9 L212.6,997.0 L214.5,991.9 L215.0,984.5 L216.6,972.4 L217.4,955.3 L219.4,909.0 L219.8,921.9 L221.3,975.0 L222.2,991.0 L223.0,1005.4 L224.6,1009.0 L227.0,1009.1 L228.7,1005.3 L229.4,1004.1 L231.8,1006.7 L234.2,1006.2 L235.8,1007.7 L236.6,1003.1 L239.0,1009.4 L241.4,1015.3 L242.9,1017.0 L243.8,1015.5 L246.2,1014.1 L248.6,1016.7 L250.0,1017.5 L251.0,1026.5 L253.4,1034.6 L255.8,1037.2 L257.1,1034.7 L258.2,1032.7 L260.6,1028.1 L263.0,1029.2 L264.2,1026.4 L265.4,1026.9 L267.8,1020.1 L270.2,1019.8 L271.3,1015.7 L272.6,1011.6 L275.0,1012.5 L277.4,1014.7 L278.4,1019.3 L279.8,1017.4 L282.2,1020.6 L284.6,1027.2 L285.5,1025.8 L287.0,1026.6 L289.4,1027.8 L290.0,1031.8 L290.0,1037.2 L291.8,1043.7 L294.2,1044.9 L296.6,1051.1 L299.0,1050.6 L301.4,1055.7 L303.8,1056.4 L304.2,1053.2 L306.2,1055.7 L308.6,1059.9 L311.0,1062.7 L313.4,1061.7 L315.8,1057.5 L318.2,1060.5 L318.4,1055.1 L320.6,1055.5 L323.0,1058.1 L325.4,1064.7 L327.8,1071.2 L330.2,1071.2 L332.6,1075.2 L332.6,1071.0 L335.0,1073.7 L337.4,1073.0 L339.8,1074.7 L342.2,1079.9 L344.6,1084.0 L346.8,1088.7 L347.0,1088.9 L349.4,1089.5 L351.8,1093.3 L354.2,1093.4 L356.6,1094.0 L359.0,1097.4 L361.0,1104.1 L361.4,1106.1 L363.8,1108.7 L366.2,1110.0 L368.6,1118.5 L371.0,1124.4 L373.4,1131.7 L375.3,1138.8 L375.8,1137.1 L378.2,1132.7 L380.6,1129.8 L383.0,1128.2 L385.4,1129.8 L387.8,1128.7 L389.5,1130.1 L390.2,1134.4 L392.6,1134.2 L395.0,1132.5 L397.4,1130.3 L399.8,1138.1 L402.2,1140.2 L403.7,1145.5 L404.6,1142.8 L407.0,1146.0 L409.4,1142.1 L411.8,1144.3 L414.2,1148.4 L416.6,1149.3 L417.9,1149.5 L419.0,1150.7 L421.4,1153.2 L423.8,1156.4 L426.2,1159.2 L428.6,1158.2 L431.0,1156.2 L432.1,1155.3 L433.4,1153.2 L435.8,1154.7 L438.2,1158.6 L440.6,1161.6 L443.0,1163.0 L445.4,1160.1 L446.3,1166.9 L447.8,1170.9 L450.2,1177.5 L452.6,1173.9 L455.0,1169.9 L457.4,1165.1 L459.8,1165.8 L460.5,1167.3 L462.2,1164.7 L464.6,1171.0 L467.0,1169.5 L469.4,1167.1 L471.2,1165.0" fill="none" stroke="#000" stroke-width="2.9" stroke-linejoin="round" stroke-linecap="butt" clip-path="url(#cp1)"/>
<path d="M119.0,959.9 L121.4,968.0 L123.8,973.7 L124.9,977.3 L126.2,977.7 L128.6,976.5 L131.0,979.2 L133.4,982.8 L133.5,982.1 L135.8,988.7 L138.2,992.5 L140.6,1000.9 L140.6,1003.0 L143.0,1010.6 L145.4,1026.3 L146.3,1026.4 L147.8,1021.2 L149.8,1002.2 L150.2,988.9 L152.2,917.2 L152.6,907.8 L153.6,879.2 L155.0,930.9 L155.1,932.8 L156.5,1023.9 L157.4,1029.5 L159.0,1048.3 L159.8,1048.5 L161.9,1062.4 L162.2,1057.4 L164.6,1046.5 L164.7,1045.0 L166.9,1031.8 L167.0,1035.8 L169.4,1050.5 L171.1,1059.5 L171.8,1053.7 L174.2,1042.0 L174.7,1035.7 L176.6,1032.0 L178.9,1025.0 L179.0,1025.4 L181.4,1014.5 L183.2,1008.7 L183.8,1008.7 L186.2,1002.3 L187.5,1002.7 L188.6,996.6 L191.0,1000.1 L191.7,996.5 L193.4,998.6 L195.8,998.6 L197.4,996.2 L198.2,998.6 L200.6,1000.8 L203.0,999.9 L203.1,995.7 L205.4,990.0 L207.8,993.0 L208.8,992.4 L210.2,997.2 L212.6,995.5 L214.5,998.2 L215.0,993.3 L216.6,974.3 L217.4,953.5 L219.4,909.0 L219.8,921.8 L221.3,974.1 L222.2,986.5 L223.0,1001.2 L224.6,1002.0 L227.0,1002.5 L228.7,1004.3 L229.4,1008.5 L231.8,1009.5 L234.2,1006.5 L235.8,1012.9 L236.6,1009.6 L239.0,1016.7 L241.4,1015.3 L242.9,1022.4 L243.8,1015.2 L246.2,1017.6 L248.6,1022.4 L250.0,1019.8 L251.0,1015.6 L253.4,1008.8 L255.8,1008.8 L257.1,1016.9 L258.2,1017.0 L260.6,1020.7 L263.0,1010.6 L264.2,1011.0 L265.4,1015.8 L267.8,1022.8 L270.2,1019.9 L271.3,1016.5 L272.6,1014.7 L275.0,1014.0 L277.4,1015.3 L278.4,1009.6 L279.8,1009.5 L282.2,1011.8 L284.6,1013.7 L285.5,1017.5 L287.0,1014.8 L289.4,1021.1 L290.0,1026.4 L290.0,1030.7 L291.8,1036.3 L294.2,1033.9 L296.6,1034.5 L299.0,1030.7 L301.4,1036.9 L303.8,1038.3 L304.2,1037.7 L306.2,1042.9 L308.6,1046.3 L311.0,1041.6 L313.4,1041.8 L315.8,1041.6 L318.2,1046.7 L318.4,1049.4 L320.6,1049.1 L323.0,1052.5 L325.4,1052.8 L327.8,1052.9 L330.2,1066.4 L332.6,1073.6 L332.6,1076.8 L335.0,1075.7 L337.4,1074.3 L339.8,1078.0 L342.2,1082.4 L344.6,1082.4 L346.8,1082.6 L347.0,1083.7 L349.4,1081.8 L351.8,1089.3 L354.2,1085.4 L356.6,1088.2 L359.0,1083.5 L361.0,1090.1 L361.4,1088.0 L363.8,1095.1 L366.2,1099.5 L368.6,1107.3 L371.0,1109.1 L373.4,1107.9 L375.3,1109.3 L375.8,1108.5 L378.2,1112.5 L380.6,1115.6 L383.0,1114.7 L385.4,1112.0 L387.8,1109.3 L389.5,1111.4 L390.2,1114.0 L392.6,1110.9 L395.0,1112.0 L397.4,1109.7 L399.8,1117.7 L402.2,1118.1 L403.7,1120.4 L404.6,1119.6 L407.0,1123.9 L409.4,1126.6 L411.8,1129.7 L414.2,1133.1 L416.6,1129.3 L417.9,1126.3 L419.0,1126.5 L421.4,1130.9 L423.8,1140.2 L426.2,1145.8 L428.6,1149.9 L431.0,1146.7 L432.1,1141.4 L433.4,1142.6 L435.8,1151.6 L438.2,1153.6 L440.6,1149.4 L443.0,1143.5 L445.4,1146.1 L446.3,1149.3 L447.8,1153.9 L450.2,1156.3 L452.6,1160.9 L455.0,1165.4 L457.4,1168.5 L459.8,1171.3 L460.5,1170.0 L462.2,1172.0 L464.6,1170.4 L467.0,1171.7 L469.4,1163.9 L471.2,1169.4" fill="none" stroke="#000" stroke-width="2.9" stroke-linejoin="round" stroke-linecap="butt" clip-path="url(#cp1)"/>
<path d="M119.0,1457.1 L121.4,1460.7 L123.5,1460.2 L123.8,1461.9 L126.2,1460.0 L128.6,1466.2 L129.2,1466.2 L131.0,1467.0 L133.4,1465.8 L134.9,1468.6 L135.8,1469.2 L138.2,1463.8 L140.6,1460.4 L140.6,1459.1 L143.0,1458.9 L144.8,1459.2 L145.4,1458.5 L147.8,1466.2 L148.4,1462.9 L150.2,1453.5 L151.2,1449.3 L152.6,1425.6 L153.4,1415.2 L155.0,1414.7 L156.2,1412.7 L157.4,1406.1 L158.3,1397.9 L159.8,1388.4 L160.5,1383.3 L162.2,1381.7 L162.6,1381.2 L164.6,1396.5 L164.7,1396.1 L166.9,1408.1 L167.0,1407.7 L169.4,1411.5 L170.4,1411.1 L171.8,1409.3 L174.2,1403.7 L174.7,1400.1 L176.6,1396.7 L178.9,1396.9 L179.0,1398.3 L181.4,1398.8 L183.8,1396.6 L184.6,1397.5 L186.2,1396.4 L188.6,1395.9 L190.3,1394.8 L191.0,1393.3 L193.4,1390.3 L195.8,1386.2 L196.0,1383.8 L198.2,1378.4 L200.6,1379.4 L201.7,1376.4 L203.0,1377.1 L205.4,1379.3 L207.4,1388.1 L207.8,1385.8 L210.2,1387.8 L212.6,1393.5 L213.0,1392.5 L215.0,1391.0 L216.6,1388.5 L217.4,1385.5 L218.4,1379.2 L219.8,1372.9 L219.9,1372.6 L221.3,1385.9 L222.2,1390.1 L223.0,1390.8 L224.6,1394.1 L227.0,1394.7 L228.7,1397.0 L229.4,1396.7 L231.8,1398.7 L234.2,1400.1 L235.8,1400.5 L236.6,1399.4 L239.0,1399.7 L241.4,1402.1 L242.9,1406.2 L243.8,1411.8 L246.2,1410.9 L248.6,1409.9 L250.0,1413.1 L251.0,1420.9 L253.4,1423.1 L255.8,1422.0 L257.1,1425.2 L258.2,1426.0 L260.6,1431.8 L263.0,1431.9 L264.2,1433.3 L265.4,1435.7 L267.8,1440.5 L270.2,1443.0 L271.3,1441.1 L272.6,1441.6 L275.0,1446.0 L277.4,1445.5 L278.4,1446.0 L279.8,1448.3 L282.2,1448.9 L284.6,1457.5 L285.5,1456.6 L287.0,1457.9 L289.4,1451.6 L290.0,1454.8 L290.0,1464.6 L291.8,1467.8 L294.2,1468.2 L296.6,1469.1 L297.1,1466.4 L299.0,1464.2 L301.4,1463.9 L303.8,1470.0 L304.2,1474.1 L306.2,1474.7 L308.6,1475.0 L311.0,1468.8 L311.3,1468.1 L313.4,1465.3 L315.8,1468.5 L318.2,1470.6 L318.4,1473.2 L320.6,1476.3 L323.0,1476.6 L324.1,1480.9 L325.4,1483.2 L327.8,1481.1 L330.2,1476.9 L332.6,1474.7 L332.6,1471.0 L335.0,1472.0 L337.4,1471.4 L339.7,1471.0 L339.8,1469.5 L342.2,1469.9 L344.6,1469.9 L346.8,1467.2 L347.0,1462.5 L349.4,1461.8 L351.8,1464.4 L353.9,1466.4 L354.2,1462.2 L356.6,1458.4 L359.0,1457.6 L361.0,1458.1 L361.4,1460.7 L363.8,1461.7 L366.2,1460.6 L368.1,1457.7 L368.6,1453.1 L371.0,1458.3 L373.4,1455.9 L375.3,1456.3 L375.8,1454.8 L378.2,1450.9 L380.6,1449.8 L382.4,1445.7 L383.0,1448.7 L385.4,1446.1 L387.8,1445.7 L389.5,1448.9 L390.2,1450.3 L392.6,1449.9 L395.0,1448.8 L396.6,1446.2 L397.4,1444.9 L399.8,1442.1 L402.2,1444.4 L403.7,1445.3 L404.6,1442.5 L407.0,1436.7 L409.4,1433.1 L410.8,1429.4 L411.8,1428.3 L414.2,1423.9 L416.6,1423.3 L417.9,1422.9 L419.0,1419.4 L421.4,1420.7 L423.8,1420.9 L425.0,1423.5 L426.2,1427.2 L428.6,1426.4 L431.0,1424.4 L432.1,1420.8 L433.4,1423.4 L435.8,1424.0 L438.2,1426.1 L439.2,1419.6 L440.6,1420.3 L443.0,1413.5 L445.4,1412.8 L446.3,1417.3 L447.8,1414.2 L450.2,1414.1 L452.6,1410.6 L453.4,1411.0 L455.0,1411.8 L457.4,1411.9 L459.8,1410.4 L460.5,1412.1 L462.2,1404.8 L464.6,1401.5 L467.0,1397.8 L467.6,1402.4 L469.4,1401.5" fill="none" stroke="#000" stroke-width="2.9" stroke-linejoin="round" stroke-linecap="butt" clip-path="url(#cp3)"/>
<path d="M119.0,1458.6 L121.4,1462.3 L123.5,1462.6 L123.8,1464.6 L126.2,1467.7 L128.6,1465.4 L129.2,1463.1 L131.0,1460.4 L133.4,1460.5 L134.9,1465.5 L135.8,1460.8 L138.2,1463.0 L140.6,1458.4 L140.6,1458.4 L143.0,1459.2 L144.8,1462.9 L145.4,1464.3 L147.8,1469.7 L148.4,1471.7 L150.2,1460.7 L151.2,1454.6 L152.6,1433.0 L153.4,1423.0 L155.0,1416.8 L156.2,1411.1 L157.4,1402.3 L158.3,1396.9 L159.8,1387.2 L160.5,1383.0 L162.2,1381.7 L162.6,1381.0 L164.6,1396.3 L164.7,1398.3 L166.9,1411.5 L167.0,1410.4 L169.4,1407.7 L170.4,1408.4 L171.8,1407.9 L174.2,1407.9 L174.7,1405.1 L176.6,1403.2 L178.9,1396.8 L179.0,1397.3 L181.4,1394.4 L183.8,1395.1 L184.6,1395.4 L186.2,1401.3 L188.6,1403.0 L190.3,1399.8 L191.0,1396.6 L193.4,1392.9 L195.8,1396.0 L196.0,1398.6 L198.2,1398.4 L200.6,1400.7 L201.7,1396.7 L203.0,1394.4 L205.4,1394.1 L207.4,1393.1 L207.8,1397.6 L210.2,1398.1 L212.6,1397.6 L213.0,1397.4 L215.0,1390.2 L216.6,1387.9 L217.4,1383.0 L218.4,1378.5 L219.8,1372.9 L219.9,1372.6 L221.3,1386.3 L222.2,1390.5 L223.0,1393.0 L224.6,1394.4 L227.0,1398.5 L228.7,1399.6 L229.4,1399.0 L231.8,1400.1 L234.2,1404.3 L235.8,1400.7 L236.6,1399.2 L239.0,1403.5 L241.4,1406.7 L242.9,1405.3 L243.8,1407.0 L246.2,1406.3 L248.6,1410.4 L250.0,1411.9 L251.0,1415.3 L253.4,1417.8 L255.8,1418.8 L257.1,1416.8 L258.2,1421.1 L260.6,1422.2 L263.0,1426.4 L264.2,1427.7 L265.4,1429.5 L267.8,1436.0 L270.2,1439.9 L271.3,1440.4 L272.6,1441.3 L275.0,1443.5 L277.4,1451.6 L278.4,1454.3 L279.8,1458.8 L282.2,1458.0 L284.6,1457.5 L285.5,1458.8 L287.0,1462.3 L289.4,1467.7 L290.0,1468.9 L290.0,1464.4 L291.8,1467.0 L294.2,1465.7 L296.6,1474.5 L297.1,1472.5 L299.0,1469.3 L301.4,1468.8 L303.8,1476.5 L304.2,1480.0 L306.2,1481.6 L308.6,1479.3 L311.0,1481.7 L311.3,1484.1 L313.4,1487.8 L315.8,1489.6 L318.2,1494.1 L318.4,1492.1 L320.6,1491.7 L323.0,1494.4 L324.1,1498.5 L325.4,1498.2 L327.8,1494.6 L330.2,1489.9 L332.6,1487.3 L332.6,1486.1 L335.0,1486.1 L337.4,1485.0 L339.7,1483.8 L339.8,1482.0 L342.2,1480.2 L344.6,1473.9 L346.8,1467.1 L347.0,1469.7 L349.4,1467.0 L351.8,1469.3 L353.9,1467.3 L354.2,1469.9 L356.6,1468.0 L359.0,1471.1 L361.0,1467.9 L361.4,1470.4 L363.8,1466.2 L366.2,1469.1 L368.1,1466.3 L368.6,1465.7 L371.0,1461.3 L373.4,1462.3 L375.3,1464.3 L375.8,1463.2 L378.2,1463.1 L380.6,1460.9 L382.4,1463.6 L383.0,1462.5 L385.4,1461.1 L387.8,1459.5 L389.5,1457.8 L390.2,1459.7 L392.6,1456.3 L395.0,1454.1 L396.6,1450.1 L397.4,1445.8 L399.8,1441.5 L402.2,1437.7 L403.7,1440.0 L404.6,1447.7 L407.0,1450.1 L409.4,1450.8 L410.8,1443.4 L411.8,1439.0 L414.2,1432.6 L416.6,1434.3 L417.9,1438.4 L419.0,1437.5 L421.4,1438.8 L423.8,1435.2 L425.0,1440.3 L426.2,1442.7 L428.6,1445.7 L431.0,1441.5 L432.1,1438.3 L433.4,1435.2 L435.8,1437.1 L438.2,1430.8 L439.2,1431.7 L440.6,1428.7 L443.0,1427.9 L445.4,1419.6 L446.3,1420.3 L447.8,1416.5 L450.2,1416.7 L452.6,1413.9 L453.4,1417.3 L455.0,1414.6 L457.4,1417.1 L459.8,1413.9 L460.5,1412.7 L462.2,1408.7 L464.6,1411.3 L467.0,1411.0 L467.6,1407.1 L469.4,1401.3" fill="none" stroke="#000" stroke-width="2.9" stroke-linejoin="round" stroke-linecap="butt" clip-path="url(#cp3)"/>
<path d="M119.0,1479.2 L121.4,1479.5 L123.5,1481.1 L123.8,1479.6 L126.2,1481.3 L128.6,1480.4 L129.2,1478.1 L131.0,1475.4 L133.4,1476.2 L134.9,1476.4 L135.8,1476.6 L138.2,1471.6 L140.6,1467.9 L140.6,1466.2 L143.0,1467.6 L144.8,1467.3 L145.4,1468.9 L147.8,1467.1 L148.4,1468.9 L150.2,1459.0 L151.2,1455.5 L152.6,1428.8 L153.4,1420.3 L155.0,1415.9 L156.2,1413.8 L157.4,1405.2 L158.3,1399.5 L159.8,1388.3 L160.5,1382.1 L162.2,1381.6 L162.6,1380.8 L164.6,1394.1 L164.7,1395.9 L166.9,1409.0 L167.0,1405.3 L169.4,1403.0 L170.4,1406.9 L171.8,1409.3 L174.2,1411.5 L174.7,1406.7 L176.6,1397.2 L178.9,1392.2 L179.0,1392.7 L181.4,1394.4 L183.8,1392.4 L184.6,1393.9 L186.2,1393.3 L188.6,1389.4 L190.3,1392.0 L191.0,1397.9 L193.4,1400.7 L195.8,1404.6 L196.0,1405.2 L198.2,1406.5 L200.6,1400.9 L201.7,1400.5 L203.0,1402.9 L205.4,1405.9 L207.4,1405.1 L207.8,1401.1 L210.2,1400.2 L212.6,1397.5 L213.0,1391.6 L215.0,1392.2 L216.6,1393.5 L217.4,1390.6 L218.4,1380.3 L219.8,1372.9 L219.9,1372.6 L221.3,1387.4 L222.2,1393.3 L223.0,1397.3 L224.6,1403.4 L227.0,1408.8 L228.7,1410.0 L229.4,1414.2 L231.8,1415.4 L234.2,1413.2 L235.8,1410.1 L236.6,1410.8 L239.0,1414.3 L241.4,1417.1 L242.9,1413.0 L243.8,1408.2 L246.2,1410.0 L248.6,1415.3 L250.0,1421.6 L251.0,1418.9 L253.4,1419.2 L255.8,1419.0 L257.1,1422.0 L258.2,1424.9 L260.6,1431.6 L263.0,1432.2 L264.2,1431.0 L265.4,1430.9 L267.8,1438.1 L270.2,1440.9 L271.3,1444.4 L272.6,1445.7 L275.0,1449.8 L277.4,1453.1 L278.4,1455.3 L279.8,1456.3 L282.2,1458.7 L284.6,1457.1 L285.5,1458.6 L287.0,1457.1 L289.4,1465.0 L290.0,1463.1 L290.0,1463.9 L291.8,1463.8 L294.2,1466.3 L296.6,1467.6 L297.1,1464.9 L299.0,1465.2 L301.4,1464.3 L303.8,1467.4 L304.2,1466.9 L306.2,1468.3 L308.6,1468.8 L311.0,1470.6 L311.3,1473.4 L313.4,1476.3 L315.8,1483.5 L318.2,1482.2 L318.4,1478.7 L320.6,1476.3 L323.0,1479.9 L324.1,1481.2 L325.4,1484.1 L327.8,1480.6 L330.2,1476.2 L332.6,1472.8 L332.6,1471.6 L335.0,1477.3 L337.4,1476.5 L339.7,1474.4 L339.8,1470.7 L342.2,1466.8 L344.6,1465.6 L346.8,1461.9 L347.0,1460.5 L349.4,1462.8 L351.8,1464.3 L353.9,1462.4 L354.2,1465.6 L356.6,1463.3 L359.0,1462.4 L361.0,1455.9 L361.4,1451.7 L363.8,1451.5 L366.2,1448.4 L368.1,1447.0 L368.6,1446.7 L371.0,1447.5 L373.4,1445.8 L375.3,1445.4 L375.8,1444.8 L378.2,1446.7 L380.6,1448.8 L382.4,1448.5 L383.0,1445.5 L385.4,1445.4 L387.8,1446.9 L389.5,1448.1 L390.2,1443.5 L392.6,1440.7 L395.0,1440.2 L396.6,1437.2 L397.4,1436.8 L399.8,1436.7 L402.2,1439.0 L403.7,1437.2 L404.6,1439.8 L407.0,1437.9 L409.4,1433.1 L410.8,1433.9 L411.8,1434.4 L414.2,1437.9 L416.6,1440.3 L417.9,1432.4 L419.0,1429.7 L421.4,1429.0 L423.8,1434.9 L425.0,1436.6 L426.2,1435.4 L428.6,1435.8 L431.0,1436.7 L432.1,1431.8 L433.4,1428.9 L435.8,1431.2 L438.2,1430.5 L439.2,1433.2 L440.6,1434.9 L443.0,1432.5 L445.4,1433.1 L446.3,1430.8 L447.8,1429.4 L450.2,1427.3 L452.6,1422.0 L453.4,1420.0 L455.0,1415.2 L457.4,1412.5 L459.8,1410.2 L460.5,1410.0 L462.2,1410.9 L464.6,1412.2 L467.0,1412.9 L467.6,1415.5 L469.4,1418.4" fill="none" stroke="#000" stroke-width="2.9" stroke-linejoin="round" stroke-linecap="butt" clip-path="url(#cp3)"/>
<path d="M119.0,1475.7 L121.4,1475.2 L123.5,1480.9 L123.8,1482.6 L126.2,1484.6 L128.6,1484.0 L129.2,1484.5 L131.0,1484.3 L133.4,1479.8 L134.9,1472.5 L135.8,1473.7 L138.2,1470.9 L140.6,1474.7 L140.6,1474.2 L143.0,1473.0 L144.8,1471.1 L145.4,1469.8 L147.8,1472.2 L148.4,1471.5 L150.2,1463.0 L151.2,1457.6 L152.6,1429.4 L153.4,1416.2 L155.0,1412.1 L156.2,1415.3 L157.4,1402.4 L158.3,1398.8 L159.8,1388.3 L160.5,1384.0 L162.2,1381.7 L162.6,1381.3 L164.6,1398.9 L164.7,1400.4 L166.9,1415.8 L167.0,1413.9 L169.4,1413.9 L170.4,1411.0 L171.8,1411.9 L174.2,1403.2 L174.7,1402.5 L176.6,1396.6 L178.9,1391.2 L179.0,1391.5 L181.4,1397.7 L183.8,1397.7 L184.6,1394.6 L186.2,1393.9 L188.6,1398.8 L190.3,1402.4 L191.0,1401.7 L193.4,1400.7 L195.8,1401.5 L196.0,1399.1 L198.2,1404.6 L200.6,1401.6 L201.7,1405.9 L203.0,1403.8 L205.4,1411.2 L207.4,1415.2 L207.8,1417.4 L210.2,1416.3 L212.6,1405.9 L213.0,1400.6 L215.0,1397.6 L216.6,1393.3 L217.4,1388.0 L218.4,1380.0 L219.8,1372.9 L219.9,1372.6 L221.3,1388.8 L222.2,1394.5 L223.0,1398.6 L224.6,1397.9 L227.0,1397.5 L228.7,1398.3 L229.4,1399.1 L231.8,1402.7 L234.2,1407.0 L235.8,1402.4 L236.6,1403.9 L239.0,1403.8 L241.4,1405.6 L242.9,1408.6 L243.8,1411.3 L246.2,1415.2 L248.6,1421.2 L250.0,1420.1 L251.0,1424.4 L253.4,1426.5 L255.8,1429.0 L257.1,1431.5 L258.2,1432.2 L260.6,1432.3 L263.0,1432.1 L264.2,1429.4 L265.4,1431.6 L267.8,1438.5 L270.2,1442.0 L271.3,1447.6 L272.6,1449.2 L275.0,1454.3 L277.4,1458.8 L278.4,1461.3 L279.8,1463.0 L282.2,1459.9 L284.6,1457.1 L285.5,1463.6 L287.0,1466.1 L289.4,1470.9 L290.0,1468.6 L290.0,1467.9 L291.8,1464.6 L294.2,1464.3 L296.6,1469.8 L297.1,1477.8 L299.0,1476.3 L301.4,1476.5 L303.8,1478.1 L304.2,1480.2 L306.2,1477.4 L308.6,1477.9 L311.0,1481.5 L311.3,1477.3 L313.4,1477.3 L315.8,1479.4 L318.2,1482.5 L318.4,1482.4 L320.6,1481.1 L323.0,1485.6 L324.1,1484.6 L325.4,1482.6 L327.8,1483.4 L330.2,1481.6 L332.6,1482.3 L332.6,1482.6 L335.0,1484.3 L337.4,1483.9 L339.7,1486.1 L339.8,1486.6 L342.2,1486.4 L344.6,1482.6 L346.8,1483.5 L347.0,1479.1 L349.4,1476.8 L351.8,1474.3 L353.9,1477.8 L354.2,1477.8 L356.6,1472.6 L359.0,1465.8 L361.0,1464.6 L361.4,1461.6 L363.8,1462.4 L366.2,1458.1 L368.1,1461.9 L368.6,1461.4 L371.0,1460.6 L373.4,1456.1 L375.3,1455.6 L375.8,1454.4 L378.2,1454.4 L380.6,1452.4 L382.4,1457.4 L383.0,1457.1 L385.4,1455.2 L387.8,1453.8 L389.5,1456.8 L390.2,1454.7 L392.6,1456.9 L395.0,1450.7 L396.6,1454.7 L397.4,1449.9 L399.8,1455.0 L402.2,1455.8 L403.7,1453.3 L404.6,1451.8 L407.0,1451.3 L409.4,1454.0 L410.8,1452.7 L411.8,1446.6 L414.2,1440.9 L416.6,1437.9 L417.9,1436.3 L419.0,1439.3 L421.4,1435.8 L423.8,1435.9 L425.0,1434.5 L426.2,1432.5 L428.6,1433.5 L431.0,1431.8 L432.1,1431.3 L433.4,1426.4 L435.8,1426.5 L438.2,1424.7 L439.2,1428.9 L440.6,1426.3 L443.0,1424.9 L445.4,1423.3 L446.3,1425.5 L447.8,1427.3 L450.2,1426.8 L452.6,1425.5 L453.4,1425.7 L455.0,1426.1 L457.4,1425.1 L459.8,1426.4 L460.5,1422.5 L462.2,1419.9 L464.6,1419.4 L467.0,1420.2 L467.6,1420.0 L469.4,1419.9" fill="none" stroke="#000" stroke-width="2.9" stroke-linejoin="round" stroke-linecap="butt" clip-path="url(#cp3)"/>
<path d="M119.0,1485.4 L121.4,1485.9 L123.5,1488.9 L123.8,1484.5 L126.2,1481.4 L128.6,1479.9 L129.2,1483.5 L131.0,1480.7 L133.4,1482.6 L134.9,1479.4 L135.8,1481.2 L138.2,1473.4 L140.6,1470.0 L140.6,1469.5 L143.0,1471.3 L144.8,1471.6 L145.4,1471.4 L147.8,1473.5 L148.4,1471.4 L150.2,1461.8 L151.2,1454.7 L152.6,1436.3 L153.4,1423.0 L155.0,1416.3 L156.2,1411.3 L157.4,1407.2 L158.3,1404.2 L159.8,1391.2 L160.5,1384.8 L162.2,1381.7 L162.6,1381.2 L164.6,1393.9 L164.7,1395.6 L166.9,1409.5 L167.0,1410.1 L169.4,1409.2 L170.4,1406.7 L171.8,1407.5 L174.2,1408.6 L174.7,1413.8 L176.6,1413.7 L178.9,1404.4 L179.0,1396.1 L181.4,1392.8 L183.8,1393.0 L184.6,1393.8 L186.2,1394.5 L188.6,1394.1 L190.3,1398.1 L191.0,1399.0 L193.4,1399.7 L195.8,1401.7 L196.0,1403.6 L198.2,1400.0 L200.6,1400.1 L201.7,1401.1 L203.0,1395.5 L205.4,1395.4 L207.4,1397.3 L207.8,1399.8 L210.2,1402.3 L212.6,1399.0 L213.0,1401.2 L215.0,1394.1 L216.6,1389.4 L217.4,1386.1 L218.4,1379.6 L219.8,1372.9 L219.9,1372.6 L221.3,1387.0 L222.2,1390.3 L223.0,1391.8 L224.6,1394.5 L227.0,1403.6 L228.7,1404.7 L229.4,1406.6 L231.8,1403.8 L234.2,1405.7 L235.8,1404.4 L236.6,1405.1 L239.0,1405.7 L241.4,1409.9 L242.9,1407.5 L243.8,1413.5 L246.2,1412.8 L248.6,1421.4 L250.0,1423.8 L251.0,1424.8 L253.4,1427.3 L255.8,1431.1 L257.1,1434.6 L258.2,1436.0 L260.6,1437.4 L263.0,1434.2 L264.2,1431.3 L265.4,1435.8 L267.8,1445.9 L270.2,1446.2 L271.3,1444.6 L272.6,1447.1 L275.0,1452.3 L277.4,1454.7 L278.4,1457.6 L279.8,1457.0 L282.2,1461.8 L284.6,1464.5 L285.5,1468.7 L287.0,1470.5 L289.4,1472.2 L290.0,1473.0 L290.0,1474.8 L291.8,1477.1 L294.2,1482.4 L296.6,1480.4 L297.1,1478.4 L299.0,1476.4 L301.4,1477.5 L303.8,1478.9 L304.2,1481.8 L306.2,1482.0 L308.6,1482.1 L311.0,1482.3 L311.3,1480.9 L313.4,1481.6 L315.8,1478.9 L318.2,1479.4 L318.4,1482.1 L320.6,1485.1 L323.0,1486.9 L324.1,1487.7 L325.4,1489.4 L327.8,1490.0 L330.2,1488.1 L332.6,1484.9 L332.6,1484.8 L335.0,1485.8 L337.4,1484.8 L339.7,1482.6 L339.8,1481.0 L342.2,1475.2 L344.6,1477.2 L346.8,1478.4 L347.0,1483.8 L349.4,1483.4 L351.8,1483.0 L353.9,1483.2 L354.2,1481.3 L356.6,1476.9 L359.0,1469.2 L361.0,1469.6 L361.4,1468.6 L363.8,1471.0 L366.2,1469.3 L368.1,1464.4 L368.6,1466.1 L371.0,1464.1 L373.4,1463.1 L375.3,1456.8 L375.8,1458.7 L378.2,1458.1 L380.6,1460.4 L382.4,1456.5 L383.0,1458.9 L385.4,1455.4 L387.8,1452.0 L389.5,1450.9 L390.2,1452.1 L392.6,1445.2 L395.0,1443.0 L396.6,1441.4 L397.4,1442.7 L399.8,1440.2 L402.2,1443.1 L403.7,1443.3 L404.6,1442.8 L407.0,1438.5 L409.4,1443.8 L410.8,1447.0 L411.8,1448.0 L414.2,1451.4 L416.6,1449.9 L417.9,1443.7 L419.0,1437.9 L421.4,1442.9 L423.8,1442.2 L425.0,1436.0 L426.2,1430.7 L428.6,1428.2 L431.0,1429.2 L432.1,1425.7 L433.4,1425.3 L435.8,1423.6 L438.2,1422.4 L439.2,1423.6 L440.6,1423.3 L443.0,1420.8 L445.4,1420.3 L446.3,1416.7 L447.8,1413.5 L450.2,1416.6 L452.6,1417.7 L453.4,1419.6 L455.0,1413.3 L457.4,1413.8 L459.8,1410.6 L460.5,1407.1 L462.2,1408.2 L464.6,1407.4 L467.0,1407.6 L467.6,1404.2 L469.4,1406.2" fill="none" stroke="#000" stroke-width="2.9" stroke-linejoin="round" stroke-linecap="butt" clip-path="url(#cp3)"/>
<path d="M547.8,1017.7 L550.7,1022.0 L553.5,1024.8 L556.4,1030.5 L559.2,1037.6 L561.3,1031.2 L562.8,1032.6 L564.9,1040.4 L567.0,1047.6 L569.2,1050.4 L571.3,1054.7 L573.4,1058.9 L575.5,1063.2 L577.7,1051.8 L579.8,1016.3 L581.7,973.7 L582.7,953.8 L584.1,987.9 L585.9,1030.5 L587.6,1056.1 L589.8,1070.3 L591.6,1078.8 L593.3,1066.0 L595.4,1041.9 L597.3,1051.8 L599.0,1070.3 L600.7,1071.0 L602.5,1061.8 L604.7,1049.0 L606.8,1037.6 L608.9,1026.2 L611.1,1017.0 L613.2,1019.1 L615.3,1015.6 L617.5,1016.3 L619.6,1012.0 L621.7,1011.3 L623.9,1012.7 L626.0,1011.3 L628.8,1012.0 L631.0,1017.7 L633.1,1022.0 L635.2,1024.1 L637.4,1023.4 L639.5,1024.8 L641.3,1026.2 L643.0,1030.5 L644.5,1023.4 L646.2,1002.1 L647.6,966.6 L648.7,936.7 L649.9,966.6 L651.3,995.0 L653.0,1012.0 L655.1,1018.4 L657.2,1023.4 L659.4,1025.5 L661.5,1022.0 L663.2,1021.3 L665.1,1026.2 L667.2,1032.6 L669.3,1034.1 L671.5,1035.5 L673.6,1037.6 L675.7,1036.9 L677.9,1036.2 L680.0,1041.2 L682.1,1044.0 L684.2,1043.3 L685.7,1044.7 L687.8,1049.7 L689.2,1044.7 L691.1,1034.8 L692.8,1033.3 L694.9,1041.2 L697.0,1036.9 L699.2,1034.1 L701.3,1036.2 L703.4,1037.6 L705.6,1039.0 L707.7,1036.9 L709.8,1039.0 L712.0,1039.7 L714.1,1038.3 L716.2,1038.3 L718.3,1046.1 L720.5,1051.8 L722.6,1054.7 L724.7,1057.5 L726.9,1056.1 L730.7,1043.8 L732.5,1041.0 L734.2,1046.7 L737.1,1051.6 L739.2,1053.1 L741.3,1050.9 L743.4,1059.5 L745.6,1068.0 L747.7,1065.1 L749.8,1059.5 L752.0,1057.3 L754.1,1059.5 L756.9,1060.9 L759.1,1057.3 L760.5,1056.6 L762.6,1065.1 L764.8,1070.1 L767.6,1067.3 L769.7,1065.1 L771.9,1069.4 L774.0,1076.5 L776.1,1088.6 L778.3,1082.2 L780.4,1080.8 L782.5,1089.3 L783.9,1092.9 L786.1,1086.5 L788.2,1085.7 L790.3,1088.6 L792.5,1083.6 L794.2,1080.8 L796.0,1087.9 L798.1,1093.6 L801.0,1100.0 L803.8,1105.6 L806.7,1106.3 L808.8,1110.6 L810.9,1116.3 L813.1,1121.3 L815.2,1118.4 L817.3,1111.3 L819.5,1108.5 L821.2,1116.3 L823.0,1123.4 L825.1,1122.0 L827.3,1123.4 L829.4,1127.0 L831.5,1131.2 L833.0,1131.9 L834.8,1122.0 L836.5,1113.5 L838.2,1112.7 L840.1,1117.7 L842.2,1125.5 L844.3,1127.7 L846.5,1126.2 L848.6,1128.4 L850.7,1127.7 L852.9,1125.5 L855.0,1123.4 L857.1,1118.4 L859.0,1117.0 L860.7,1122.0 L862.8,1131.9 L864.9,1135.5 L867.8,1136.9 L870.6,1137.6 L872.7,1143.3 L874.9,1146.1 L877.0,1140.4 L879.1,1136.9 L882.0,1138.3 L884.1,1136.2 L886.2,1134.8 L888.4,1135.5 L890.5,1141.2 L892.6,1141.9 L894.8,1140.4 L896.9,1141.2 L899.0,1139.0 L900.7,1136.2" fill="none" stroke="#FF0000" stroke-width="2.7" stroke-linejoin="round" stroke-linecap="butt" clip-path="url(#cp2)"/>
<path d="M547.8,1031.2 L550.0,1037.6 L554.2,1035.5 L556.4,1039.0 L558.8,1044.7 L560.6,1039.0 L562.8,1036.9 L564.9,1050.4 L567.7,1061.8 L569.9,1065.3 L572.0,1066.7 L574.1,1071.7 L576.3,1073.1 L578.4,1058.9 L580.2,1002.1 L581.7,931.0 L582.7,877.8 L583.6,916.8 L584.8,973.7 L586.2,1051.8 L588.3,1049.0 L589.8,1058.9 L591.6,1063.9 L593.3,1037.6 L595.4,1011.3 L597.6,1030.5 L599.7,1051.8 L601.1,1058.2 L603.3,1043.3 L604.7,1030.5 L606.4,1026.2 L608.2,1014.9 L610.4,999.2 L612.5,993.6 L614.6,985.0 L616.0,981.5 L618.9,980.8 L621.0,982.9 L623.1,983.6 L626.0,981.9 L628.1,985.0 L630.3,995.0 L632.0,1006.3 L633.8,1010.6 L635.9,1012.7 L638.8,1004.9 L640.9,1002.1 L643.0,1000.7 L645.2,987.9 L646.6,945.3 L648.0,909.7 L649.1,890.5 L650.1,916.8 L651.6,959.5 L653.3,985.0 L655.1,993.6 L657.2,994.3 L658.7,992.9 L660.8,995.0 L662.2,987.9 L663.6,986.5 L665.1,990.7 L667.2,1002.1 L669.3,1007.8 L671.5,1013.5 L673.6,1015.6 L675.0,1017.7 L676.4,1014.2 L677.9,1012.7 L679.3,1019.1 L680.7,1026.2 L682.1,1029.8 L685.0,1033.3 L687.1,1040.4 L689.2,1041.9 L690.6,1030.5 L692.8,1024.1 L694.9,1025.5 L696.3,1023.4 L698.2,1017.0 L699.9,1020.6 L701.3,1024.8 L702.7,1031.9 L704.8,1039.7 L707.0,1030.5 L708.7,1024.8 L710.5,1027.0 L712.7,1029.8 L714.8,1029.1 L716.9,1027.7 L719.1,1034.1 L721.2,1040.4 L723.3,1050.4 L725.4,1061.8 L727.6,1060.3 L732.1,1053.8 L734.2,1058.0 L737.1,1057.3 L739.9,1064.4 L742.0,1061.6 L744.2,1073.7 L746.3,1080.1 L748.4,1080.8 L750.5,1072.2 L752.4,1066.6 L754.8,1068.7 L756.9,1071.5 L759.1,1070.1 L761.2,1069.4 L763.3,1077.9 L766.2,1078.6 L769.7,1077.9 L771.9,1087.9 L774.7,1100.0 L776.8,1100.7 L779.0,1095.0 L781.1,1098.5 L783.2,1107.8 L785.4,1109.9 L788.2,1109.9 L790.3,1104.9 L792.5,1093.6 L793.9,1089.3 L796.0,1099.2 L798.1,1109.2 L799.9,1115.6 L801.7,1112.0 L803.8,1119.1 L805.3,1124.8 L808.1,1127.0 L810.9,1131.9 L813.1,1134.1 L815.2,1130.5 L817.3,1123.4 L819.5,1115.6 L821.2,1124.8 L823.4,1136.2 L825.1,1126.2 L827.3,1124.8 L829.4,1130.5 L831.5,1140.4 L833.0,1144.0 L834.8,1134.8 L836.5,1127.7 L838.6,1135.5 L840.8,1133.3 L842.9,1126.2 L845.0,1117.0 L847.2,1117.0 L849.3,1126.2 L851.4,1132.6 L853.6,1130.5 L856.4,1127.7 L858.5,1122.0 L860.0,1121.3 L862.1,1131.9 L864.2,1138.3 L866.3,1143.3 L869.2,1146.8 L871.3,1141.9 L873.5,1141.9 L875.6,1141.9 L877.0,1134.8 L879.1,1132.6 L881.3,1143.3 L883.4,1151.1 L884.8,1154.7 L887.0,1152.5 L889.1,1148.3 L891.2,1146.1 L893.3,1146.1 L895.5,1152.5 L897.6,1156.8 L899.3,1154.7 L900.7,1149.7" fill="none" stroke="#000" stroke-width="2.7" stroke-linejoin="round" stroke-linecap="butt" clip-path="url(#cp2)"/>
<path d="M548.6,1492.7 L550.7,1487.7 L552.8,1483.5 L554.9,1489.1 L557.1,1492.0 L559.2,1486.3 L561.3,1479.2 L563.5,1476.3 L565.6,1480.6 L567.7,1484.2 L570.6,1482.7 L572.7,1483.5 L574.8,1484.2 L577.7,1481.3 L579.8,1465.0 L581.2,1429.5 L582.7,1391.1 L584.5,1388.3 L585.9,1415.3 L586.9,1433.7 L588.8,1420.9 L590.5,1415.3 L592.6,1422.4 L594.0,1430.2 L596.2,1429.5 L598.3,1433.7 L600.1,1439.4 L601.6,1441.5 L603.3,1437.3 L605.4,1428.0 L607.5,1420.9 L610.4,1415.3 L613.2,1409.6 L615.3,1407.4 L617.5,1411.0 L620.3,1411.7 L622.4,1413.1 L624.6,1415.3 L626.7,1406.7 L628.8,1403.9 L631.0,1403.2 L633.1,1401.0 L635.2,1399.6 L637.4,1402.5 L639.5,1408.1 L641.6,1411.7 L643.7,1408.1 L645.9,1401.0 L647.6,1384.0 L649.4,1372.6 L651.3,1389.7 L653.0,1409.6 L655.1,1413.1 L657.2,1413.8 L659.4,1418.8 L661.2,1420.9 L662.9,1415.3 L665.5,1411.0 L667.2,1414.5 L669.3,1419.5 L671.5,1422.4 L673.6,1428.0 L675.7,1432.3 L677.9,1428.7 L680.0,1428.0 L682.1,1439.4 L684.2,1446.5 L686.4,1440.1 L688.5,1439.4 L690.6,1449.4 L692.8,1447.9 L694.9,1447.2 L697.0,1450.8 L699.2,1454.3 L701.3,1459.3 L703.4,1464.3 L705.6,1462.9 L707.7,1460.7 L709.8,1459.3 L711.5,1465.0 L713.4,1473.5 L715.5,1476.3 L717.6,1480.6 L719.8,1482.7 L722.6,1482.7 L724.7,1486.3 L726.9,1490.6 L727.8,1489.1 L729.7,1477.8 L731.4,1472.1 L733.1,1474.9 L734.9,1484.9 L737.1,1487.0 L739.9,1486.3 L742.7,1486.3 L745.6,1489.1 L748.4,1487.7 L750.5,1489.1 L752.4,1484.2 L754.1,1482.7 L755.8,1487.7 L757.7,1494.8 L759.8,1496.2 L761.9,1494.8 L763.8,1487.7 L765.5,1482.0 L767.6,1485.6 L769.7,1487.7 L771.9,1489.1 L774.0,1493.4 L776.1,1490.6 L778.3,1486.3 L780.4,1487.7 L782.5,1492.7 L783.9,1492.7 L786.1,1488.4 L788.2,1485.6 L790.3,1483.5 L792.5,1477.8 L793.9,1474.9 L796.0,1479.2 L798.1,1483.5 L800.3,1487.7 L802.4,1483.5 L804.5,1480.6 L806.7,1484.2 L808.8,1479.2 L810.9,1478.5 L813.1,1484.2 L815.2,1483.5 L817.3,1480.6 L819.5,1474.9 L821.6,1470.0 L823.7,1469.2 L825.9,1470.7 L828.0,1469.2 L830.1,1468.5 L832.2,1470.7 L834.4,1474.2 L836.5,1470.0 L838.6,1468.5 L840.5,1467.1 L842.2,1459.3 L844.3,1455.0 L846.5,1446.5 L848.2,1440.8 L850.0,1445.1 L852.1,1450.1 L854.3,1452.2 L856.4,1455.0 L858.5,1454.3 L860.7,1449.4 L862.8,1442.2 L864.9,1440.8 L867.1,1439.4 L868.9,1442.2 L870.6,1450.8 L872.7,1445.1 L874.9,1440.8 L877.0,1436.6 L878.4,1429.5 L880.3,1423.8 L882.0,1428.7 L884.1,1428.0 L885.5,1428.0 L887.4,1433.7 L889.1,1440.1 L891.2,1435.9 L893.3,1430.2 L895.5,1425.2 L897.6,1420.9 L899.3,1417.4 L901.2,1415.3" fill="none" stroke="#FF0000" stroke-width="2.7" stroke-linejoin="round" stroke-linecap="butt" clip-path="url(#cp4)"/>
<path d="M549.3,1508.3 L551.4,1500.5 L553.5,1496.2 L557.8,1494.8 L560.6,1489.1 L563.5,1484.2 L566.3,1484.9 L569.2,1479.2 L572.0,1474.2 L574.8,1478.5 L578.4,1479.9 L580.5,1472.1 L581.9,1450.8 L583.1,1426.6 L584.5,1418.1 L586.2,1430.9 L587.6,1420.9 L589.3,1402.5 L591.2,1400.3 L592.6,1409.6 L594.0,1416.0 L596.2,1414.5 L598.3,1416.7 L600.1,1426.6 L601.8,1432.3 L604.0,1425.2 L606.1,1420.9 L608.9,1418.1 L611.8,1417.4 L613.9,1412.4 L616.0,1409.6 L618.2,1411.7 L620.3,1411.0 L622.4,1412.4 L624.3,1416.7 L626.3,1413.8 L628.1,1405.3 L629.5,1404.6 L631.7,1407.4 L634.5,1408.1 L637.4,1411.0 L639.5,1413.8 L641.6,1415.3 L643.7,1413.8 L645.9,1409.6 L647.6,1396.8 L649.4,1384.7 L651.3,1396.8 L653.0,1406.7 L655.1,1408.9 L657.2,1409.6 L659.4,1418.1 L661.2,1419.5 L662.9,1412.4 L665.5,1409.6 L667.2,1415.3 L669.3,1423.1 L671.5,1421.6 L673.6,1420.9 L675.7,1428.0 L677.1,1431.6 L679.3,1428.0 L680.7,1428.0 L682.5,1438.0 L685.0,1446.5 L687.1,1438.7 L688.8,1438.7 L690.6,1449.4 L692.1,1452.2 L694.2,1451.5 L696.3,1459.3 L697.7,1462.9 L700.6,1464.3 L702.7,1467.1 L704.8,1470.0 L708.4,1470.7 L710.5,1473.5 L712.7,1476.3 L714.8,1474.9 L716.2,1475.6 L717.6,1480.6 L719.1,1483.5 L721.2,1482.0 L723.3,1485.6 L725.4,1492.0 L726.9,1493.4 L727.8,1493.4 L729.7,1487.7 L731.4,1484.2 L732.8,1488.4 L734.2,1492.0 L735.6,1491.3 L737.1,1487.0 L738.5,1487.0 L739.9,1490.6 L741.3,1493.4 L743.4,1491.3 L745.6,1489.8 L747.7,1490.6 L749.6,1494.8 L751.3,1489.8 L753.4,1487.7 L755.5,1492.0 L757.7,1496.2 L759.8,1496.2 L761.9,1496.2 L763.8,1492.0 L765.5,1488.4 L767.6,1489.8 L769.7,1490.6 L771.4,1490.6 L773.3,1496.2 L775.1,1499.1 L776.8,1493.4 L778.5,1488.4 L780.4,1487.7 L782.5,1488.4 L784.6,1487.0 L786.8,1483.5 L788.9,1481.3 L790.3,1479.2 L791.8,1472.1 L792.7,1469.2 L794.6,1470.7 L796.7,1471.4 L798.9,1474.9 L800.7,1478.5 L802.4,1476.3 L804.5,1472.8 L806.7,1475.6 L808.8,1474.2 L810.9,1475.6 L813.1,1474.9 L815.2,1473.5 L816.6,1469.2 L818.0,1463.6 L820.2,1459.3 L822.3,1457.9 L824.4,1456.5 L826.6,1455.0 L828.7,1455.7 L830.8,1455.7 L833.0,1456.5 L835.1,1459.3 L837.2,1461.4 L839.1,1463.6 L840.8,1455.0 L842.2,1443.7 L843.6,1440.1 L845.7,1439.4 L847.9,1438.0 L850.0,1436.6 L852.1,1437.3 L854.3,1439.4 L856.1,1439.4 L857.8,1433.7 L860.0,1429.5 L862.1,1427.3 L864.2,1428.0 L865.6,1422.4 L867.1,1415.3 L868.5,1414.5 L869.9,1422.4 L871.3,1427.3 L873.5,1423.8 L875.6,1419.5 L877.7,1416.7 L880.3,1411.0 L882.0,1413.8 L884.1,1413.8 L886.2,1416.7 L888.4,1418.8 L890.5,1418.1 L892.6,1416.7 L894.8,1413.8 L896.9,1405.3 L898.7,1398.2 L900.7,1396.8" fill="none" stroke="#000" stroke-width="2.7" stroke-linejoin="round" stroke-linecap="butt" clip-path="url(#cp4)"/>
<path d="M144.8,1188.3 v-10 M144.8,865.3 v10 M210.1,1188.3 v-10 M210.1,865.3 v10 M275.3,1188.3 v-10 M275.3,865.3 v10 M340.6,1188.3 v-10 M340.6,865.3 v10 M405.8,1188.3 v-10 M405.8,865.3 v10 M471.1,1188.3 v-10 M471.1,865.3 v10 M119.0,944.3 h4.4 M471.7,944.3 h-4.4 M119.0,1046.4 h4.4 M471.7,1046.4 h-4.4 M119.0,1139.4 h4.4 M471.7,1139.4 h-4.4 " stroke="#404040" stroke-width="1.3" fill="none"/>
<rect x="119.0" y="865.3" width="352.7" height="323.0" fill="none" stroke="#404040" stroke-width="1.2"/>
<path d="M119.0,865.3 V1188.3" stroke="#505050" stroke-width="1.3" fill="none"/>
<text x="144.3" y="1215.3" font-size="27.0" text-anchor="middle" fill="#000" >0</text>
<text x="274.8" y="1215.3" font-size="27.0" text-anchor="middle" fill="#000" >1</text>
<text x="405.3" y="1215.3" font-size="27.0" text-anchor="middle" fill="#000" >2</text>
<text x="113.5" y="955.6" font-size="27.0" text-anchor="end" fill="#000" >1</text>
<text x="108.9" y="1056.2" font-size="27.0" text-anchor="end" fill="#000" >0</text>
<text x="105.2" y="1150.5" font-size="27.0" text-anchor="end" fill="#000" >-1</text>
<path d="M574.2,1188.3 v-10 M574.2,865.3 v10 M639.5,1188.3 v-10 M639.5,865.3 v10 M704.7,1188.3 v-10 M704.7,865.3 v10 M770.0,1188.3 v-10 M770.0,865.3 v10 M835.2,1188.3 v-10 M835.2,865.3 v10 M900.5,1188.3 v-10 M900.5,865.3 v10 M548.3,943.0 h4.4 M900.8,943.0 h-4.4 M548.3,1045.5 h4.4 M900.8,1045.5 h-4.4 M548.3,1142.5 h4.4 M900.8,1142.5 h-4.4 " stroke="#404040" stroke-width="1.3" fill="none"/>
<rect x="548.3" y="865.3" width="352.5" height="323.0" fill="none" stroke="#404040" stroke-width="1.2"/>
<path d="M548.3,865.3 V1188.3" stroke="#505050" stroke-width="1.3" fill="none"/>
<text x="573.7" y="1215.3" font-size="27.0" text-anchor="middle" fill="#000" >0</text>
<text x="704.2" y="1215.3" font-size="27.0" text-anchor="middle" fill="#000" >1</text>
<text x="834.7" y="1215.3" font-size="27.0" text-anchor="middle" fill="#000" >2</text>
<text x="537.0" y="956.1" font-size="27.0" text-anchor="end" fill="#000" >1</text>
<text x="539.1" y="1053.4" font-size="27.0" text-anchor="end" fill="#000" >0</text>
<text x="537.3" y="1148.9" font-size="27.0" text-anchor="end" fill="#000" >-1</text>
<path d="M144.8,1586.2 v-10 M144.8,1264.3 v10 M210.2,1586.2 v-10 M210.2,1264.3 v10 M275.5,1586.2 v-10 M275.5,1264.3 v10 M340.9,1586.2 v-10 M340.9,1264.3 v10 M406.2,1586.2 v-10 M406.2,1264.3 v10 M471.6,1586.2 v-10 M471.6,1264.3 v10 M119.0,1352.6 h4.4 M471.7,1352.6 h-4.4 M119.0,1445.3 h4.4 M471.7,1445.3 h-4.4 M119.0,1542.6 h4.4 M471.7,1542.6 h-4.4 " stroke="#404040" stroke-width="1.3" fill="none"/>
<rect x="119.0" y="1264.3" width="352.7" height="321.9" fill="none" stroke="#404040" stroke-width="1.2"/>
<path d="M119.0,1264.3 V1586.2" stroke="#505050" stroke-width="1.3" fill="none"/>
<text x="144.3" y="1613.2" font-size="27.0" text-anchor="middle" fill="#000" >0</text>
<text x="275.0" y="1613.2" font-size="27.0" text-anchor="middle" fill="#000" >1</text>
<text x="405.7" y="1613.2" font-size="27.0" text-anchor="middle" fill="#000" >2</text>
<text x="114.6" y="1362.3" font-size="27.0" text-anchor="end" fill="#000" >1</text>
<text x="110.0" y="1455.6" font-size="27.0" text-anchor="end" fill="#000" >0</text>
<text x="114.6" y="1553.1" font-size="27.0" text-anchor="end" fill="#000" >-1</text>
<path d="M575.1,1586.5 v-10 M575.1,1264.6 v10 M640.3,1586.5 v-10 M640.3,1264.6 v10 M705.5,1586.5 v-10 M705.5,1264.6 v10 M770.7,1586.5 v-10 M770.7,1264.6 v10 M835.9,1586.5 v-10 M835.9,1264.6 v10 M901.1,1586.5 v-10 M901.1,1264.6 v10 M549.5,1352.4 h4.4 M901.2,1352.4 h-4.4 M549.5,1449.2 h4.4 M901.2,1449.2 h-4.4 M549.5,1541.0 h4.4 M901.2,1541.0 h-4.4 " stroke="#404040" stroke-width="1.3" fill="none"/>
<rect x="549.5" y="1264.6" width="351.7" height="321.9" fill="none" stroke="#404040" stroke-width="1.2"/>
<path d="M549.5,1264.6 V1586.5" stroke="#505050" stroke-width="1.3" fill="none"/>
<text x="574.6" y="1613.5" font-size="27.0" text-anchor="middle" fill="#000" >0</text>
<text x="705.0" y="1613.5" font-size="27.0" text-anchor="middle" fill="#000" >1</text>
<text x="835.4" y="1613.5" font-size="27.0" text-anchor="middle" fill="#000" >2</text>
<text x="538.1" y="1362.5" font-size="27.0" text-anchor="end" fill="#000" >1</text>
<text x="540.5" y="1457.5" font-size="27.0" text-anchor="end" fill="#000" >0</text>
<text x="537.3" y="1552.8" font-size="27.0" text-anchor="end" fill="#000" >-1</text>
<text transform="translate(147.5,842.5) scale(1.0750,1)" font-size="32.0" text-anchor="start" fill="#000" >Stim</text>
<text transform="translate(292.5,842.5) scale(1.0750,1)" font-size="32.0" text-anchor="start" fill="#000" >Delay</text>
<text transform="translate(576.5,843.0) scale(1.0750,1)" font-size="32.0" text-anchor="start" fill="#000" >Stim</text>
<text transform="translate(721.5,843.0) scale(1.0750,1)" font-size="32.0" text-anchor="start" fill="#000" >Delay</text>
<text transform="translate(31.0,1024.2) rotate(-90) scale(1.007,1)" font-size="34" text-anchor="middle">1<tspan dy="-13" font-size="23.5">st</tspan><tspan dy="13"> dPCA comp.</tspan></text>
<text transform="translate(72.0,1030.5) rotate(-90) scale(1.018,1)" font-size="34" text-anchor="middle">Normalized activity</text>
<text transform="translate(31.5,1421.6) rotate(-90) scale(1.026,1)" font-size="34" text-anchor="middle">2<tspan dy="-13" font-size="23.5">nd</tspan><tspan dy="13"> dPCA comp.</tspan></text>
<text transform="translate(72.0,1430.0) rotate(-90) scale(1.018,1)" font-size="34" text-anchor="middle">Normalized activity</text>
<text x="512.0" y="1680.2" font-size="42.0" text-anchor="middle" fill="#000" >Time (s)</text>
<rect x="518.7" y="737" width="89" height="10.8" fill="#E2E2E2"/><rect x="521" y="738.8" width="84.6" height="7.2" fill="#FF5A5F"/>
<rect x="518.7" y="781.2" width="89" height="10.8" fill="#E2E2E2"/><rect x="521" y="783" width="84.6" height="7.2" fill="#4D4D4D"/>
<text x="622.8" y="752.9" font-size="31.0" text-anchor="start" fill="#FF5A5F" textLength="299" lengthAdjust="spacingAndGlyphs">session specific Ws</text>
<text x="625.4" y="796.9" font-size="31.0" text-anchor="start" fill="#000" textLength="278" lengthAdjust="spacingAndGlyphs">5 session avg. Ws</text>
<text x="984.0" y="751.0" font-size="61.0" text-anchor="start" fill="#000" >c</text>
<text transform="translate(1470.7,854.0) scale(1.0235,1)" font-size="40.5" text-anchor="middle" fill="#000" >Spatial distribution of 5 session avg. dPCA Ws</text>
<g shape-rendering="crispEdges">
<rect x="1010.5" y="959.4" width="171.4" height="163.2" fill="#3E26A8"/>
<rect x="1053.35" y="959.40" width="21.73" height="20.70" fill="#2d87f7"/>
<rect x="1074.78" y="959.40" width="21.73" height="20.70" fill="#f8bd39"/>
<rect x="1096.20" y="959.40" width="21.73" height="20.70" fill="#fbca34"/>
<rect x="1117.62" y="959.40" width="21.73" height="20.70" fill="#2d87f7"/>
<rect x="1010.50" y="979.80" width="21.73" height="20.70" fill="#1dbdb2"/>
<rect x="1031.92" y="979.80" width="21.73" height="20.70" fill="#e6b82e"/>
<rect x="1053.35" y="979.80" width="21.73" height="20.70" fill="#14afd7"/>
<rect x="1074.78" y="979.80" width="21.73" height="20.70" fill="#2c8df3"/>
<rect x="1096.20" y="979.80" width="21.73" height="20.70" fill="#acc53b"/>
<rect x="1117.62" y="979.80" width="21.73" height="20.70" fill="#3181f9"/>
<rect x="1160.48" y="979.80" width="21.73" height="20.70" fill="#25c1ac"/>
<rect x="1010.50" y="1000.20" width="21.73" height="20.70" fill="#14afd7"/>
<rect x="1031.92" y="1000.20" width="21.73" height="20.70" fill="#4367fb"/>
<rect x="1053.35" y="1000.20" width="21.73" height="20.70" fill="#04b7ca"/>
<rect x="1074.78" y="1000.20" width="21.73" height="20.70" fill="#4646e8"/>
<rect x="1096.20" y="1000.20" width="21.73" height="20.70" fill="#4367fb"/>
<rect x="1117.62" y="1000.20" width="21.73" height="20.70" fill="#14afd7"/>
<rect x="1139.05" y="1000.20" width="21.73" height="20.70" fill="#5dcb79"/>
<rect x="1010.50" y="1020.60" width="21.73" height="20.70" fill="#4367fb"/>
<rect x="1031.92" y="1020.60" width="21.73" height="20.70" fill="#6ccc6c"/>
<rect x="1053.35" y="1020.60" width="21.73" height="20.70" fill="#43c991"/>
<rect x="1074.78" y="1020.60" width="21.73" height="20.70" fill="#32c7a3"/>
<rect x="1096.20" y="1020.60" width="21.73" height="20.70" fill="#acc53b"/>
<rect x="1117.62" y="1020.60" width="21.73" height="20.70" fill="#2d87f7"/>
<rect x="1139.05" y="1020.60" width="21.73" height="20.70" fill="#4fcb85"/>
<rect x="1031.92" y="1041.00" width="21.73" height="20.70" fill="#4fcb85"/>
<rect x="1053.35" y="1041.00" width="21.73" height="20.70" fill="#43c991"/>
<rect x="1074.78" y="1041.00" width="21.73" height="20.70" fill="#f4bc36"/>
<rect x="1096.20" y="1041.00" width="21.73" height="20.70" fill="#3777fd"/>
<rect x="1117.62" y="1041.00" width="21.73" height="20.70" fill="#3777fd"/>
<rect x="1010.50" y="1061.40" width="21.73" height="20.70" fill="#3777fd"/>
<rect x="1053.35" y="1061.40" width="21.73" height="20.70" fill="#25c1ac"/>
<rect x="1074.78" y="1061.40" width="21.73" height="20.70" fill="#4fcb85"/>
<rect x="1096.20" y="1061.40" width="21.73" height="20.70" fill="#04b7ca"/>
<rect x="1139.05" y="1061.40" width="21.73" height="20.70" fill="#73cc66"/>
<rect x="1010.50" y="1081.80" width="21.73" height="20.70" fill="#4758f4"/>
<rect x="1031.92" y="1081.80" width="21.73" height="20.70" fill="#1ba9de"/>
<rect x="1053.35" y="1081.80" width="21.73" height="20.70" fill="#1ba9de"/>
<rect x="1074.78" y="1081.80" width="21.73" height="20.70" fill="#32c7a3"/>
<rect x="1117.62" y="1081.80" width="21.73" height="20.70" fill="#00b9c7"/>
<rect x="1139.05" y="1081.80" width="21.73" height="20.70" fill="#4367fb"/>
<rect x="1031.92" y="1102.20" width="21.73" height="20.70" fill="#3181f9"/>
<rect x="1053.35" y="1102.20" width="21.73" height="20.70" fill="#f9fb15"/>
<rect x="1074.78" y="1102.20" width="21.73" height="20.70" fill="#fdbe3c"/>
<rect x="1117.62" y="1102.20" width="21.73" height="20.70" fill="#4367fb"/>
</g>
<g shape-rendering="crispEdges">
<rect x="1231.2" y="958.6" width="171.8" height="163.4" fill="#3E26A8"/>
<rect x="1274.15" y="958.60" width="21.77" height="20.72" fill="#4336d4"/>
<rect x="1252.67" y="979.02" width="21.77" height="20.72" fill="#4233ce"/>
<rect x="1274.15" y="979.02" width="21.77" height="20.72" fill="#412fc8"/>
<rect x="1295.62" y="979.02" width="21.77" height="20.72" fill="#453ddf"/>
<rect x="1317.10" y="979.02" width="21.77" height="20.72" fill="#453ddf"/>
<rect x="1231.20" y="999.45" width="21.77" height="20.72" fill="#4758f4"/>
<rect x="1274.15" y="999.45" width="21.77" height="20.72" fill="#402dc2"/>
<rect x="1295.62" y="999.45" width="21.77" height="20.72" fill="#4753f1"/>
<rect x="1317.10" y="999.45" width="21.77" height="20.72" fill="#f9fb15"/>
<rect x="1338.58" y="999.45" width="21.77" height="20.72" fill="#464aeb"/>
<rect x="1231.20" y="1019.88" width="21.77" height="20.72" fill="#474fee"/>
<rect x="1295.62" y="1040.30" width="21.77" height="20.72" fill="#00b9c7"/>
<rect x="1317.10" y="1060.72" width="21.77" height="20.72" fill="#3c71fc"/>
<rect x="1338.58" y="1060.72" width="21.77" height="20.72" fill="#239fe7"/>
<rect x="1295.62" y="1081.15" width="21.77" height="20.72" fill="#8cca50"/>
<rect x="1317.10" y="1081.15" width="21.77" height="20.72" fill="#2d87f7"/>
<rect x="1338.58" y="1081.15" width="21.77" height="20.72" fill="#f9e225"/>
<rect x="1317.10" y="1101.58" width="21.77" height="20.72" fill="#4336d4"/>
<rect x="1338.58" y="1101.58" width="21.77" height="20.72" fill="#357afc"/>
</g>
<g shape-rendering="crispEdges">
<rect x="1517.2" y="961.3" width="172.0" height="163.6" fill="#3E26A8"/>
<rect x="1517.20" y="961.30" width="21.80" height="20.75" fill="#4641e5"/>
<rect x="1538.70" y="961.30" width="21.80" height="20.75" fill="#1ba9de"/>
<rect x="1560.20" y="961.30" width="21.80" height="20.75" fill="#4641e5"/>
<rect x="1581.70" y="961.30" width="21.80" height="20.75" fill="#1fa5e3"/>
<rect x="1603.20" y="961.30" width="21.80" height="20.75" fill="#3974fd"/>
<rect x="1624.70" y="961.30" width="21.80" height="20.75" fill="#d8bc2f"/>
<rect x="1646.20" y="961.30" width="21.80" height="20.75" fill="#f9fb15"/>
<rect x="1667.70" y="961.30" width="21.80" height="20.75" fill="#2899ea"/>
<rect x="1517.20" y="981.75" width="21.80" height="20.75" fill="#3e6dfc"/>
<rect x="1538.70" y="981.75" width="21.80" height="20.75" fill="#8cca50"/>
<rect x="1560.20" y="981.75" width="21.80" height="20.75" fill="#3e6dfc"/>
<rect x="1581.70" y="981.75" width="21.80" height="20.75" fill="#fbca34"/>
<rect x="1603.20" y="981.75" width="21.80" height="20.75" fill="#efba34"/>
<rect x="1624.70" y="981.75" width="21.80" height="20.75" fill="#1fa5e3"/>
<rect x="1538.70" y="1002.20" width="21.80" height="20.75" fill="#2ac3a9"/>
<rect x="1560.20" y="1002.20" width="21.80" height="20.75" fill="#4641e5"/>
<rect x="1646.20" y="1002.20" width="21.80" height="20.75" fill="#3181f9"/>
<rect x="1517.20" y="1022.65" width="21.80" height="20.75" fill="#4367fb"/>
<rect x="1538.70" y="1022.65" width="21.80" height="20.75" fill="#4641e5"/>
<rect x="1560.20" y="1022.65" width="21.80" height="20.75" fill="#18abdc"/>
<rect x="1603.20" y="1022.65" width="21.80" height="20.75" fill="#00b9c7"/>
<rect x="1624.70" y="1022.65" width="21.80" height="20.75" fill="#4758f4"/>
<rect x="1646.20" y="1022.65" width="21.80" height="20.75" fill="#1dbdb2"/>
<rect x="1667.70" y="1022.65" width="21.80" height="20.75" fill="#2d87f7"/>
<rect x="1517.20" y="1043.10" width="21.80" height="20.75" fill="#4233ce"/>
<rect x="1560.20" y="1043.10" width="21.80" height="20.75" fill="#face32"/>
<rect x="1581.70" y="1043.10" width="21.80" height="20.75" fill="#2ac3a9"/>
<rect x="1603.20" y="1043.10" width="21.80" height="20.75" fill="#453ddf"/>
<rect x="1667.70" y="1043.10" width="21.80" height="20.75" fill="#3181f9"/>
<rect x="1603.20" y="1063.55" width="21.80" height="20.75" fill="#4367fb"/>
<rect x="1624.70" y="1063.55" width="21.80" height="20.75" fill="#337dfb"/>
<rect x="1560.20" y="1084.00" width="21.80" height="20.75" fill="#239fe7"/>
<rect x="1581.70" y="1084.00" width="21.80" height="20.75" fill="#2d87f7"/>
<rect x="1603.20" y="1084.00" width="21.80" height="20.75" fill="#337dfb"/>
<rect x="1624.70" y="1084.00" width="21.80" height="20.75" fill="#18abdc"/>
<rect x="1667.70" y="1084.00" width="21.80" height="20.75" fill="#4233ce"/>
</g>
<g shape-rendering="crispEdges">
<rect x="1745.1" y="961.3" width="170.7" height="163.6" fill="#3E26A8"/>
<rect x="1809.11" y="981.75" width="21.64" height="20.75" fill="#3c71fc"/>
<rect x="1787.77" y="1002.20" width="21.64" height="20.75" fill="#3777fd"/>
<rect x="1830.45" y="1002.20" width="21.64" height="20.75" fill="#357afc"/>
<rect x="1851.79" y="1002.20" width="21.64" height="20.75" fill="#3777fd"/>
<rect x="1766.44" y="1022.65" width="21.64" height="20.75" fill="#43c991"/>
<rect x="1787.77" y="1022.65" width="21.64" height="20.75" fill="#43c991"/>
<rect x="1809.11" y="1022.65" width="21.64" height="20.75" fill="#bbc234"/>
<rect x="1830.45" y="1022.65" width="21.64" height="20.75" fill="#4367fb"/>
<rect x="1745.10" y="1043.10" width="21.64" height="20.75" fill="#f9fb15"/>
<rect x="1766.44" y="1043.10" width="21.64" height="20.75" fill="#1ba9de"/>
<rect x="1787.77" y="1043.10" width="21.64" height="20.75" fill="#239fe7"/>
<rect x="1745.10" y="1063.55" width="21.64" height="20.75" fill="#2d87f7"/>
<rect x="1766.44" y="1063.55" width="21.64" height="20.75" fill="#84ca58"/>
<rect x="1787.77" y="1063.55" width="21.64" height="20.75" fill="#73cc66"/>
<rect x="1809.11" y="1063.55" width="21.64" height="20.75" fill="#443ad9"/>
<rect x="1830.45" y="1063.55" width="21.64" height="20.75" fill="#efba34"/>
<rect x="1851.79" y="1063.55" width="21.64" height="20.75" fill="#4336d4"/>
<rect x="1851.79" y="1084.00" width="21.64" height="20.75" fill="#239fe7"/>
<rect x="1873.12" y="1084.00" width="21.64" height="20.75" fill="#3e6dfc"/>
<rect x="1851.79" y="1104.45" width="21.64" height="20.75" fill="#357afc"/>
</g>
<g shape-rendering="crispEdges">
<rect x="1009.0" y="1340.5" width="167.4" height="163.1" fill="#3E26A8"/>
<rect x="1009.00" y="1340.50" width="21.23" height="20.69" fill="#4758f4"/>
<rect x="1071.78" y="1340.50" width="21.23" height="20.69" fill="#3777fd"/>
<rect x="1092.70" y="1340.50" width="21.23" height="20.69" fill="#3e6dfc"/>
<rect x="1113.62" y="1340.50" width="21.23" height="20.69" fill="#acc53b"/>
<rect x="1155.48" y="1340.50" width="21.23" height="20.69" fill="#43c991"/>
<rect x="1009.00" y="1360.89" width="21.23" height="20.69" fill="#bbc234"/>
<rect x="1029.92" y="1360.89" width="21.23" height="20.69" fill="#2899ea"/>
<rect x="1071.78" y="1360.89" width="21.23" height="20.69" fill="#08b5cd"/>
<rect x="1092.70" y="1360.89" width="21.23" height="20.69" fill="#2a96ec"/>
<rect x="1113.62" y="1360.89" width="21.23" height="20.69" fill="#3181f9"/>
<rect x="1155.48" y="1360.89" width="21.23" height="20.69" fill="#08b5cd"/>
<rect x="1009.00" y="1381.28" width="21.23" height="20.69" fill="#3e6dfc"/>
<rect x="1029.92" y="1381.28" width="21.23" height="20.69" fill="#3f2ab5"/>
<rect x="1050.85" y="1381.28" width="21.23" height="20.69" fill="#2899ea"/>
<rect x="1071.78" y="1381.28" width="21.23" height="20.69" fill="#474fee"/>
<rect x="1092.70" y="1381.28" width="21.23" height="20.69" fill="#3f28ae"/>
<rect x="1113.62" y="1381.28" width="21.23" height="20.69" fill="#412fc8"/>
<rect x="1134.55" y="1381.28" width="21.23" height="20.69" fill="#32c7a3"/>
<rect x="1155.48" y="1381.28" width="21.23" height="20.69" fill="#474fee"/>
<rect x="1029.92" y="1401.66" width="21.23" height="20.69" fill="#412fc8"/>
<rect x="1050.85" y="1401.66" width="21.23" height="20.69" fill="#443ad9"/>
<rect x="1071.78" y="1401.66" width="21.23" height="20.69" fill="#4758f4"/>
<rect x="1092.70" y="1401.66" width="21.23" height="20.69" fill="#d8bc2f"/>
<rect x="1113.62" y="1401.66" width="21.23" height="20.69" fill="#f9fb15"/>
<rect x="1134.55" y="1401.66" width="21.23" height="20.69" fill="#11bbba"/>
<rect x="1009.00" y="1422.05" width="21.23" height="20.69" fill="#2899ea"/>
<rect x="1029.92" y="1422.05" width="21.23" height="20.69" fill="#4367fb"/>
<rect x="1050.85" y="1422.05" width="21.23" height="20.69" fill="#1ba9de"/>
<rect x="1071.78" y="1422.05" width="21.23" height="20.69" fill="#2d87f7"/>
<rect x="1092.70" y="1422.05" width="21.23" height="20.69" fill="#1ba9de"/>
<rect x="1113.62" y="1422.05" width="21.23" height="20.69" fill="#00b9c7"/>
<rect x="1155.48" y="1422.05" width="21.23" height="20.69" fill="#18abdc"/>
<rect x="1009.00" y="1442.44" width="21.23" height="20.69" fill="#3f2ab5"/>
<rect x="1029.92" y="1442.44" width="21.23" height="20.69" fill="#464aeb"/>
<rect x="1050.85" y="1442.44" width="21.23" height="20.69" fill="#4336d4"/>
<rect x="1071.78" y="1442.44" width="21.23" height="20.69" fill="#f9eb1f"/>
<rect x="1092.70" y="1442.44" width="21.23" height="20.69" fill="#2b90f0"/>
<rect x="1134.55" y="1442.44" width="21.23" height="20.69" fill="#5dcb79"/>
<rect x="1155.48" y="1442.44" width="21.23" height="20.69" fill="#4758f4"/>
<rect x="1009.00" y="1462.82" width="21.23" height="20.69" fill="#3f2ab5"/>
<rect x="1029.92" y="1462.82" width="21.23" height="20.69" fill="#00b9c7"/>
<rect x="1050.85" y="1462.82" width="21.23" height="20.69" fill="#3e6dfc"/>
<rect x="1071.78" y="1462.82" width="21.23" height="20.69" fill="#2899ea"/>
<rect x="1113.62" y="1462.82" width="21.23" height="20.69" fill="#412fc8"/>
<rect x="1134.55" y="1462.82" width="21.23" height="20.69" fill="#4367fb"/>
<rect x="1029.92" y="1483.21" width="21.23" height="20.69" fill="#412fc8"/>
<rect x="1050.85" y="1483.21" width="21.23" height="20.69" fill="#357afc"/>
<rect x="1071.78" y="1483.21" width="21.23" height="20.69" fill="#239fe7"/>
<rect x="1092.70" y="1483.21" width="21.23" height="20.69" fill="#357afc"/>
<rect x="1113.62" y="1483.21" width="21.23" height="20.69" fill="#4753f1"/>
</g>
<g shape-rendering="crispEdges">
<rect x="1230.4" y="1340.5" width="167.1" height="163.1" fill="#3E26A8"/>
<rect x="1251.29" y="1340.50" width="21.19" height="20.69" fill="#4367fb"/>
<rect x="1272.18" y="1340.50" width="21.19" height="20.69" fill="#3e6dfc"/>
<rect x="1251.29" y="1360.89" width="21.19" height="20.69" fill="#f9fb15"/>
<rect x="1272.18" y="1360.89" width="21.19" height="20.69" fill="#337dfb"/>
<rect x="1293.06" y="1360.89" width="21.19" height="20.69" fill="#4367fb"/>
<rect x="1313.95" y="1360.89" width="21.19" height="20.69" fill="#cabf30"/>
<rect x="1376.61" y="1360.89" width="21.19" height="20.69" fill="#3181f9"/>
<rect x="1230.40" y="1381.28" width="21.19" height="20.69" fill="#f9e225"/>
<rect x="1251.29" y="1381.28" width="21.19" height="20.69" fill="#56cb7f"/>
<rect x="1272.18" y="1381.28" width="21.19" height="20.69" fill="#f4bc36"/>
<rect x="1293.06" y="1381.28" width="21.19" height="20.69" fill="#2899ea"/>
<rect x="1313.95" y="1381.28" width="21.19" height="20.69" fill="#32c7a3"/>
<rect x="1251.29" y="1401.66" width="21.19" height="20.69" fill="#ebb931"/>
<rect x="1376.61" y="1401.66" width="21.19" height="20.69" fill="#3181f9"/>
<rect x="1293.06" y="1422.05" width="21.19" height="20.69" fill="#5dcb79"/>
<rect x="1334.84" y="1422.05" width="21.19" height="20.69" fill="#14afd7"/>
<rect x="1355.72" y="1422.05" width="21.19" height="20.69" fill="#2d87f7"/>
<rect x="1376.61" y="1422.05" width="21.19" height="20.69" fill="#2899ea"/>
<rect x="1272.18" y="1442.44" width="21.19" height="20.69" fill="#3181f9"/>
<rect x="1293.06" y="1462.82" width="21.19" height="20.69" fill="#f4bc36"/>
<rect x="1313.95" y="1462.82" width="21.19" height="20.69" fill="#2d87f7"/>
<rect x="1334.84" y="1462.82" width="21.19" height="20.69" fill="#3181f9"/>
<rect x="1293.06" y="1483.21" width="21.19" height="20.69" fill="#357afc"/>
<rect x="1313.95" y="1483.21" width="21.19" height="20.69" fill="#269ce8"/>
<rect x="1334.84" y="1483.21" width="21.19" height="20.69" fill="#acc53b"/>
<rect x="1376.61" y="1483.21" width="21.19" height="20.69" fill="#4367fb"/>
</g>
<g shape-rendering="crispEdges">
<rect x="1520.2" y="1340.8" width="167.7" height="163.2" fill="#3E26A8"/>
<rect x="1520.20" y="1340.80" width="21.26" height="20.70" fill="#4641e5"/>
<rect x="1541.16" y="1340.80" width="21.26" height="20.70" fill="#4641e5"/>
<rect x="1583.09" y="1340.80" width="21.26" height="20.70" fill="#08b5cd"/>
<rect x="1604.05" y="1340.80" width="21.26" height="20.70" fill="#2b90f0"/>
<rect x="1666.94" y="1340.80" width="21.26" height="20.70" fill="#453ddf"/>
<rect x="1520.20" y="1361.20" width="21.26" height="20.70" fill="#1ba9de"/>
<rect x="1541.16" y="1361.20" width="21.26" height="20.70" fill="#f9fb15"/>
<rect x="1562.12" y="1361.20" width="21.26" height="20.70" fill="#c3c131"/>
<rect x="1583.09" y="1361.20" width="21.26" height="20.70" fill="#95c949"/>
<rect x="1604.05" y="1361.20" width="21.26" height="20.70" fill="#455ef7"/>
<rect x="1625.01" y="1361.20" width="21.26" height="20.70" fill="#3e6dfc"/>
<rect x="1520.20" y="1381.60" width="21.26" height="20.70" fill="#10b1d4"/>
<rect x="1541.16" y="1381.60" width="21.26" height="20.70" fill="#1ba9de"/>
<rect x="1562.12" y="1381.60" width="21.26" height="20.70" fill="#402bbb"/>
<rect x="1645.98" y="1381.60" width="21.26" height="20.70" fill="#2d87f7"/>
<rect x="1520.20" y="1402.00" width="21.26" height="20.70" fill="#4367fb"/>
<rect x="1541.16" y="1402.00" width="21.26" height="20.70" fill="#06bac3"/>
<rect x="1562.12" y="1402.00" width="21.26" height="20.70" fill="#11bbba"/>
<rect x="1583.09" y="1402.00" width="21.26" height="20.70" fill="#465bf5"/>
<rect x="1604.05" y="1402.00" width="21.26" height="20.70" fill="#49ca8b"/>
<rect x="1625.01" y="1402.00" width="21.26" height="20.70" fill="#453ddf"/>
<rect x="1645.98" y="1402.00" width="21.26" height="20.70" fill="#4753f1"/>
<rect x="1666.94" y="1402.00" width="21.26" height="20.70" fill="#1ba9de"/>
<rect x="1583.09" y="1422.40" width="21.26" height="20.70" fill="#2b93ee"/>
<rect x="1604.05" y="1422.40" width="21.26" height="20.70" fill="#2ec5a6"/>
<rect x="1666.94" y="1422.40" width="21.26" height="20.70" fill="#1fa5e3"/>
<rect x="1520.20" y="1442.80" width="21.26" height="20.70" fill="#4758f4"/>
<rect x="1604.05" y="1442.80" width="21.26" height="20.70" fill="#3181f9"/>
<rect x="1625.01" y="1442.80" width="21.26" height="20.70" fill="#4641e5"/>
<rect x="1562.12" y="1463.20" width="21.26" height="20.70" fill="#25c1ac"/>
<rect x="1583.09" y="1463.20" width="21.26" height="20.70" fill="#4646e8"/>
<rect x="1604.05" y="1463.20" width="21.26" height="20.70" fill="#08b5cd"/>
</g>
<g shape-rendering="crispEdges">
<rect x="1745.5" y="1340.2" width="166.9" height="163.4" fill="#3E26A8"/>
<rect x="1766.36" y="1360.62" width="21.16" height="20.72" fill="#357afc"/>
<rect x="1808.09" y="1360.62" width="21.16" height="20.72" fill="#402bbb"/>
<rect x="1787.22" y="1381.05" width="21.16" height="20.72" fill="#453ddf"/>
<rect x="1828.95" y="1381.05" width="21.16" height="20.72" fill="#1dbdb2"/>
<rect x="1745.50" y="1401.47" width="21.16" height="20.72" fill="#337dfb"/>
<rect x="1766.36" y="1401.47" width="21.16" height="20.72" fill="#412fc8"/>
<rect x="1808.09" y="1401.47" width="21.16" height="20.72" fill="#2899ea"/>
<rect x="1828.95" y="1401.47" width="21.16" height="20.72" fill="#10b1d4"/>
<rect x="1745.50" y="1421.90" width="21.16" height="20.72" fill="#4367fb"/>
<rect x="1808.09" y="1421.90" width="21.16" height="20.72" fill="#3181f9"/>
<rect x="1849.81" y="1421.90" width="21.16" height="20.72" fill="#1fa5e3"/>
<rect x="1745.50" y="1442.33" width="21.16" height="20.72" fill="#269ce8"/>
<rect x="1766.36" y="1442.33" width="21.16" height="20.72" fill="#4753f1"/>
<rect x="1787.22" y="1442.33" width="21.16" height="20.72" fill="#f9fb15"/>
<rect x="1808.09" y="1442.33" width="21.16" height="20.72" fill="#4758f4"/>
<rect x="1828.95" y="1442.33" width="21.16" height="20.72" fill="#4fcb85"/>
<rect x="1870.68" y="1442.33" width="21.16" height="20.72" fill="#3c71fc"/>
<rect x="1849.81" y="1462.75" width="21.16" height="20.72" fill="#4753f1"/>
<rect x="1787.22" y="1483.17" width="21.16" height="20.72" fill="#4367fb"/>
</g>
<path d="M1010.5,959 H1181.9 M1009,1339.8 H1176.4 M1230.4,1339.8 H1397.5 M1745.5,1339.6 H1912.4" stroke="#B0B0B0" stroke-width="1" fill="none"/>
<path d="M1744.6,961.3 V1124.9 M1745,1340.2 V1503.6 M1176.4,1339.8 V1503.6 M1009.3,1339.8 V1503.6" stroke="#C8C8D8" stroke-width="1" fill="none"/>
<text x="1034.0" y="947.5" font-size="34.6" text-anchor="start" fill="#000" >dlPFCleft</text>
<text x="1247.5" y="948.5" font-size="34.6" text-anchor="start" fill="#000" >vlPFCleft</text>
<text x="1523.5" y="954.0" font-size="34.6" text-anchor="start" fill="#000" >dlPFCright</text>
<text x="1746.0" y="954.5" font-size="34.6" text-anchor="start" fill="#000" >vlPFCright</text>
<text x="1028.0" y="1330.0" font-size="34.6" text-anchor="start" fill="#000" >dlPFCleft</text>
<text x="1242.5" y="1330.5" font-size="34.6" text-anchor="start" fill="#000" >vlPFCleft</text>
<text x="1530.0" y="1331.5" font-size="34.6" text-anchor="start" fill="#000" >dlPFCright</text>
<text x="1746.5" y="1334.0" font-size="34.6" text-anchor="start" fill="#000" >vlPFCright</text>
<text transform="translate(978.0,1050.3) rotate(-90) scale(1.000,1)" font-size="34" text-anchor="middle">1<tspan dy="-13" font-size="23.5">st</tspan><tspan dy="13"> dPCA comp.</tspan></text>
<text transform="translate(980.0,1414.8) rotate(-90) scale(1.000,1)" font-size="34" text-anchor="middle">2<tspan dy="-13" font-size="23.5">nd</tspan><tspan dy="13"> dPCA comp.</tspan></text>
<defs><linearGradient id="cb" x1="0" y1="1" x2="0" y2="0"><stop offset="0.000" stop-color="#3e26a8"/><stop offset="0.048" stop-color="#4332cb"/><stop offset="0.095" stop-color="#4741e5"/><stop offset="0.143" stop-color="#4852f4"/><stop offset="0.190" stop-color="#4563fd"/><stop offset="0.238" stop-color="#3875fe"/><stop offset="0.286" stop-color="#2e87f7"/><stop offset="0.333" stop-color="#2797eb"/><stop offset="0.381" stop-color="#20a5e3"/><stop offset="0.429" stop-color="#12b1d6"/><stop offset="0.476" stop-color="#02bac3"/><stop offset="0.524" stop-color="#24c1ae"/><stop offset="0.571" stop-color="#37c897"/><stop offset="0.619" stop-color="#57cc7a"/><stop offset="0.667" stop-color="#81cc59"/><stop offset="0.714" stop-color="#abc739"/><stop offset="0.762" stop-color="#d1bf27"/><stop offset="0.810" stop-color="#f0ba36"/><stop offset="0.857" stop-color="#fec338"/><stop offset="0.905" stop-color="#fad62d"/><stop offset="0.952" stop-color="#f5e924"/><stop offset="1.000" stop-color="#f9fb15"/></linearGradient></defs>
<rect x="1930.1" y="1159.5" width="24" height="164" fill="url(#cb)" stroke="#666" stroke-width="1"/>
<path d="M1954,1290.6 h-3.5 M1954,1257.8 h-3.5 M1954,1225.0 h-3.5 M1954,1192.2 h-3.5 " stroke="#333" stroke-width="1.2" fill="none"/>
<text x="1958.0" y="1168.0" font-size="34.0" text-anchor="start" fill="#000" >1</text>
<text x="1957.0" y="1336.0" font-size="34.0" text-anchor="start" fill="#000" >0</text>
<text transform="translate(1993.0,1238.0) rotate(-90)" font-size="34.0" text-anchor="middle" >Weight</text>
</svg>
</body></html>
